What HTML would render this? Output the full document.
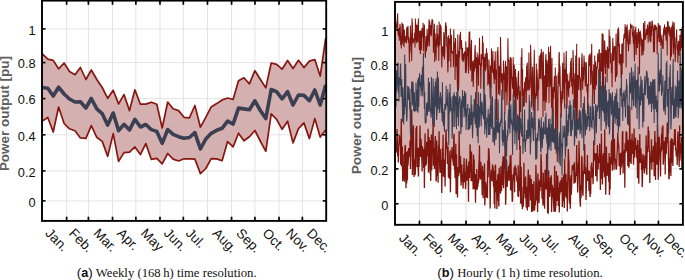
<!DOCTYPE html><html><head><meta charset="utf-8"><style>html,body{margin:0;padding:0;background:#fff;}svg{display:block;}</style></head><body>
<svg width="685" height="280" viewBox="0 0 685 280">
<defs><clipPath id="cl"><rect x="42.00" y="0.60" width="284.20" height="220.30"/></clipPath><clipPath id="cr"><rect x="395.00" y="1.90" width="287.90" height="222.90"/></clipPath></defs>
<style>.tl{font-family:"Liberation Sans",sans-serif;font-size:12.8px;fill:#111}.yl{font-family:"Liberation Sans",sans-serif;font-size:12px;font-weight:bold;fill:#5e5e5e}.ml{font-family:"Liberation Sans",sans-serif;font-size:13.5px;fill:#111}.cap{font-family:"Liberation Serif",serif;font-size:12.7px;fill:#111}.capb{font-family:"Liberation Sans",sans-serif;font-weight:bold}.capp{font-family:"Liberation Sans",sans-serif;font-size:13.5px}</style>
<line x1="66.62" y1="0.60" x2="66.62" y2="220.90" stroke="#e3e3e3" stroke-width="1"/>
<line x1="88.41" y1="0.60" x2="88.41" y2="220.90" stroke="#e3e3e3" stroke-width="1"/>
<line x1="112.53" y1="0.60" x2="112.53" y2="220.90" stroke="#e3e3e3" stroke-width="1"/>
<line x1="135.87" y1="0.60" x2="135.87" y2="220.90" stroke="#e3e3e3" stroke-width="1"/>
<line x1="159.99" y1="0.60" x2="159.99" y2="220.90" stroke="#e3e3e3" stroke-width="1"/>
<line x1="183.33" y1="0.60" x2="183.33" y2="220.90" stroke="#e3e3e3" stroke-width="1"/>
<line x1="207.45" y1="0.60" x2="207.45" y2="220.90" stroke="#e3e3e3" stroke-width="1"/>
<line x1="231.57" y1="0.60" x2="231.57" y2="220.90" stroke="#e3e3e3" stroke-width="1"/>
<line x1="254.92" y1="0.60" x2="254.92" y2="220.90" stroke="#e3e3e3" stroke-width="1"/>
<line x1="279.04" y1="0.60" x2="279.04" y2="220.90" stroke="#e3e3e3" stroke-width="1"/>
<line x1="302.38" y1="0.60" x2="302.38" y2="220.90" stroke="#e3e3e3" stroke-width="1"/>
<line x1="42.00" y1="28.90" x2="326.20" y2="28.90" stroke="#e3e3e3" stroke-width="1"/>
<line x1="42.00" y1="62.60" x2="326.20" y2="62.60" stroke="#e3e3e3" stroke-width="1"/>
<line x1="42.00" y1="98.60" x2="326.20" y2="98.60" stroke="#e3e3e3" stroke-width="1"/>
<line x1="42.00" y1="134.80" x2="326.20" y2="134.80" stroke="#e3e3e3" stroke-width="1"/>
<line x1="42.00" y1="170.90" x2="326.20" y2="170.90" stroke="#e3e3e3" stroke-width="1"/>
<line x1="42.00" y1="200.90" x2="326.20" y2="200.90" stroke="#e3e3e3" stroke-width="1"/>
<g clip-path="url(#cl)"><polygon points="42.3,53.8 47.8,59.1 53.2,60.4 58.6,68.8 64.1,63 69.5,71.5 75,74.7 80.4,67.5 85.9,79.5 91.3,70 96.8,79.5 102.2,87.5 107.7,98.3 113.2,90.3 118.6,103.9 124,94.6 129.5,110.6 134.9,89.8 140.4,104.2 145.8,104.1 151.3,102.2 156.8,104.2 162.2,128 167.7,102 173.1,108.8 178.6,110.6 184,117.3 189.4,117.8 194.9,105.5 200.4,127.2 205.8,117.3 211.2,106.9 216.7,103.6 222.1,100 227.6,98 233.1,99.5 238.5,80.7 243.9,77.8 249.4,83.9 254.9,70.7 260.3,79.3 265.8,87.9 271.2,63 276.6,64.3 282.1,69.2 287.6,60.5 293,68.5 298.5,60.3 303.9,67.6 309.4,61.1 314.8,59.6 320.2,76.1 325.7,38.2 325.7,130 320.2,137.1 314.8,118.6 309.4,138.6 303.9,122.9 298.5,128.6 293,142.9 287.6,121.2 282.1,129.3 276.6,119.3 271.2,113.9 265.8,151.3 260.3,141 254.9,130.5 249.4,136.7 243.9,140.8 238.5,133.2 233.1,146.9 227.6,141.6 222.1,160.8 216.7,158.9 211.2,158.6 205.8,168.5 200.4,173.6 194.9,159.1 189.4,158.8 184,158.8 178.6,161 173.1,159.1 167.7,153.5 162.2,163.9 156.8,158.3 151.3,159.3 145.8,143.6 140.4,154.6 134.9,146.9 129.5,152.1 124,152.6 118.6,161.4 113.2,133.6 107.7,156.4 102.2,141.4 96.8,137.3 91.3,125.6 85.9,138.3 80.4,137.9 75,130.7 69.5,128.8 64.1,123.5 58.6,107 53.2,132 47.8,117.5 42.3,121" fill="#d4b1b0"/>
<polyline points="42.3,53.8 47.8,59.1 53.2,60.4 58.6,68.8 64.1,63 69.5,71.5 75,74.7 80.4,67.5 85.9,79.5 91.3,70 96.8,79.5 102.2,87.5 107.7,98.3 113.2,90.3 118.6,103.9 124,94.6 129.5,110.6 134.9,89.8 140.4,104.2 145.8,104.1 151.3,102.2 156.8,104.2 162.2,128 167.7,102 173.1,108.8 178.6,110.6 184,117.3 189.4,117.8 194.9,105.5 200.4,127.2 205.8,117.3 211.2,106.9 216.7,103.6 222.1,100 227.6,98 233.1,99.5 238.5,80.7 243.9,77.8 249.4,83.9 254.9,70.7 260.3,79.3 265.8,87.9 271.2,63 276.6,64.3 282.1,69.2 287.6,60.5 293,68.5 298.5,60.3 303.9,67.6 309.4,61.1 314.8,59.6 320.2,76.1 325.7,38.2" fill="none" stroke="#86160f" stroke-width="1.7" stroke-linejoin="round"/>
<polyline points="42.3,121 47.8,117.5 53.2,132 58.6,107 64.1,123.5 69.5,128.8 75,130.7 80.4,137.9 85.9,138.3 91.3,125.6 96.8,137.3 102.2,141.4 107.7,156.4 113.2,133.6 118.6,161.4 124,152.6 129.5,152.1 134.9,146.9 140.4,154.6 145.8,143.6 151.3,159.3 156.8,158.3 162.2,163.9 167.7,153.5 173.1,159.1 178.6,161 184,158.8 189.4,158.8 194.9,159.1 200.4,173.6 205.8,168.5 211.2,158.6 216.7,158.9 222.1,160.8 227.6,141.6 233.1,146.9 238.5,133.2 243.9,140.8 249.4,136.7 254.9,130.5 260.3,141 265.8,151.3 271.2,113.9 276.6,119.3 282.1,129.3 287.6,121.2 293,142.9 298.5,128.6 303.9,122.9 309.4,138.6 314.8,118.6 320.2,137.1 325.7,130" fill="none" stroke="#86160f" stroke-width="1.7" stroke-linejoin="round"/>
<polyline points="42.3,87.5 47.8,88.3 53.2,96 58.6,87.2 64.1,94 69.5,99 75,102 80.4,101.7 85.9,108 91.3,98.5 96.8,108.9 102.2,113.7 107.7,125.1 113.2,113 118.6,130.7 124,124.3 129.5,129.9 134.9,119.4 140.4,127 145.8,124.5 151.3,129.6 156.8,131.4 162.2,143.3 167.7,129.5 173.1,134.3 178.6,136.7 184,138.3 189.4,137.5 194.9,132.7 200.4,149 205.8,139 211.2,133.3 216.7,130.3 222.1,128.3 227.6,121.2 233.1,124.1 238.5,108.1 243.9,108.9 249.4,109.7 254.9,100.8 260.3,110.5 265.8,118.5 271.2,89.5 276.6,91.7 282.1,98.9 287.6,91.7 293,105 298.5,95 303.9,95.4 309.4,100.7 314.8,90 320.2,105 325.7,85" fill="none" stroke="#3a3f52" stroke-width="3.6" stroke-linejoin="round"/></g>
<rect x="42.00" y="0.60" width="284.20" height="220.30" fill="none" stroke="#000" stroke-width="1.9"/>
<line x1="66.62" y1="220.90" x2="66.62" y2="216.70" stroke="#000" stroke-width="1.7"/>
<line x1="66.62" y1="0.60" x2="66.62" y2="4.80" stroke="#000" stroke-width="1.7"/>
<line x1="88.41" y1="220.90" x2="88.41" y2="216.70" stroke="#000" stroke-width="1.7"/>
<line x1="88.41" y1="0.60" x2="88.41" y2="4.80" stroke="#000" stroke-width="1.7"/>
<line x1="112.53" y1="220.90" x2="112.53" y2="216.70" stroke="#000" stroke-width="1.7"/>
<line x1="112.53" y1="0.60" x2="112.53" y2="4.80" stroke="#000" stroke-width="1.7"/>
<line x1="135.87" y1="220.90" x2="135.87" y2="216.70" stroke="#000" stroke-width="1.7"/>
<line x1="135.87" y1="0.60" x2="135.87" y2="4.80" stroke="#000" stroke-width="1.7"/>
<line x1="159.99" y1="220.90" x2="159.99" y2="216.70" stroke="#000" stroke-width="1.7"/>
<line x1="159.99" y1="0.60" x2="159.99" y2="4.80" stroke="#000" stroke-width="1.7"/>
<line x1="183.33" y1="220.90" x2="183.33" y2="216.70" stroke="#000" stroke-width="1.7"/>
<line x1="183.33" y1="0.60" x2="183.33" y2="4.80" stroke="#000" stroke-width="1.7"/>
<line x1="207.45" y1="220.90" x2="207.45" y2="216.70" stroke="#000" stroke-width="1.7"/>
<line x1="207.45" y1="0.60" x2="207.45" y2="4.80" stroke="#000" stroke-width="1.7"/>
<line x1="231.57" y1="220.90" x2="231.57" y2="216.70" stroke="#000" stroke-width="1.7"/>
<line x1="231.57" y1="0.60" x2="231.57" y2="4.80" stroke="#000" stroke-width="1.7"/>
<line x1="254.92" y1="220.90" x2="254.92" y2="216.70" stroke="#000" stroke-width="1.7"/>
<line x1="254.92" y1="0.60" x2="254.92" y2="4.80" stroke="#000" stroke-width="1.7"/>
<line x1="279.04" y1="220.90" x2="279.04" y2="216.70" stroke="#000" stroke-width="1.7"/>
<line x1="279.04" y1="0.60" x2="279.04" y2="4.80" stroke="#000" stroke-width="1.7"/>
<line x1="302.38" y1="220.90" x2="302.38" y2="216.70" stroke="#000" stroke-width="1.7"/>
<line x1="302.38" y1="0.60" x2="302.38" y2="4.80" stroke="#000" stroke-width="1.7"/>
<line x1="42.00" y1="28.90" x2="45.50" y2="28.90" stroke="#000" stroke-width="1.6"/>
<line x1="326.20" y1="28.90" x2="322.70" y2="28.90" stroke="#000" stroke-width="1.6"/>
<line x1="42.00" y1="62.60" x2="45.50" y2="62.60" stroke="#000" stroke-width="1.6"/>
<line x1="326.20" y1="62.60" x2="322.70" y2="62.60" stroke="#000" stroke-width="1.6"/>
<line x1="42.00" y1="98.60" x2="45.50" y2="98.60" stroke="#000" stroke-width="1.6"/>
<line x1="326.20" y1="98.60" x2="322.70" y2="98.60" stroke="#000" stroke-width="1.6"/>
<line x1="42.00" y1="134.80" x2="45.50" y2="134.80" stroke="#000" stroke-width="1.6"/>
<line x1="326.20" y1="134.80" x2="322.70" y2="134.80" stroke="#000" stroke-width="1.6"/>
<line x1="42.00" y1="170.90" x2="45.50" y2="170.90" stroke="#000" stroke-width="1.6"/>
<line x1="326.20" y1="170.90" x2="322.70" y2="170.90" stroke="#000" stroke-width="1.6"/>
<line x1="42.00" y1="200.90" x2="45.50" y2="200.90" stroke="#000" stroke-width="1.6"/>
<line x1="326.20" y1="200.90" x2="322.70" y2="200.90" stroke="#000" stroke-width="1.6"/>
<text x="35.60" y="34.70" text-anchor="end" class="tl">1</text>
<text x="35.60" y="68.40" text-anchor="end" class="tl">0.8</text>
<text x="35.60" y="104.40" text-anchor="end" class="tl">0.6</text>
<text x="35.60" y="140.60" text-anchor="end" class="tl">0.4</text>
<text x="35.60" y="176.70" text-anchor="end" class="tl">0.2</text>
<text x="35.60" y="206.70" text-anchor="end" class="tl">0</text>
<text transform="translate(9.15,113.60) rotate(-90)" text-anchor="middle" class="yl" textLength="115.0" lengthAdjust="spacingAndGlyphs">Power output [pu]</text>
<text transform="translate(44.56,234.10) rotate(45)" class="ml">Jan.</text>
<text transform="translate(68.26,234.10) rotate(45)" class="ml">Feb.</text>
<text transform="translate(92.82,234.10) rotate(45)" class="ml">Mar.</text>
<text transform="translate(116.35,234.10) rotate(45)" class="ml">Apr.</text>
<text transform="translate(140.08,234.10) rotate(45)" class="ml">May</text>
<text transform="translate(163.11,234.10) rotate(45)" class="ml">Jun.</text>
<text transform="translate(184.94,234.10) rotate(45)" class="ml">Jul.</text>
<text transform="translate(211.81,234.10) rotate(45)" class="ml">Aug.</text>
<text transform="translate(235.45,234.10) rotate(45)" class="ml">Sep.</text>
<text transform="translate(261.68,234.10) rotate(45)" class="ml">Oct.</text>
<text transform="translate(285.06,234.10) rotate(45)" class="ml">Nov.</text>
<text transform="translate(306.04,234.10) rotate(45)" class="ml">Dec.</text>
<line x1="419.45" y1="1.90" x2="419.45" y2="224.80" stroke="#e3e3e3" stroke-width="1"/>
<line x1="441.54" y1="1.90" x2="441.54" y2="224.80" stroke="#e3e3e3" stroke-width="1"/>
<line x1="465.99" y1="1.90" x2="465.99" y2="224.80" stroke="#e3e3e3" stroke-width="1"/>
<line x1="489.65" y1="1.90" x2="489.65" y2="224.80" stroke="#e3e3e3" stroke-width="1"/>
<line x1="514.10" y1="1.90" x2="514.10" y2="224.80" stroke="#e3e3e3" stroke-width="1"/>
<line x1="537.77" y1="1.90" x2="537.77" y2="224.80" stroke="#e3e3e3" stroke-width="1"/>
<line x1="562.22" y1="1.90" x2="562.22" y2="224.80" stroke="#e3e3e3" stroke-width="1"/>
<line x1="586.67" y1="1.90" x2="586.67" y2="224.80" stroke="#e3e3e3" stroke-width="1"/>
<line x1="610.33" y1="1.90" x2="610.33" y2="224.80" stroke="#e3e3e3" stroke-width="1"/>
<line x1="634.79" y1="1.90" x2="634.79" y2="224.80" stroke="#e3e3e3" stroke-width="1"/>
<line x1="658.45" y1="1.90" x2="658.45" y2="224.80" stroke="#e3e3e3" stroke-width="1"/>
<line x1="395.00" y1="29.80" x2="682.90" y2="29.80" stroke="#e3e3e3" stroke-width="1"/>
<line x1="395.00" y1="64.60" x2="682.90" y2="64.60" stroke="#e3e3e3" stroke-width="1"/>
<line x1="395.00" y1="99.80" x2="682.90" y2="99.80" stroke="#e3e3e3" stroke-width="1"/>
<line x1="395.00" y1="134.80" x2="682.90" y2="134.80" stroke="#e3e3e3" stroke-width="1"/>
<line x1="395.00" y1="168.90" x2="682.90" y2="168.90" stroke="#e3e3e3" stroke-width="1"/>
<line x1="395.00" y1="203.75" x2="682.90" y2="203.75" stroke="#e3e3e3" stroke-width="1"/>
<g clip-path="url(#cr)"><polygon points="395,32.5 395.3,27.5 395.7,21.3 396,25.1 396.3,28.3 396.7,26.3 397,27.7 397.3,18.4 397.7,13.4 398,32.7 398.3,34.4 398.7,36.5 399,28.2 399.3,40.8 399.7,28.2 400,23.8 400.3,26.9 400.7,45.2 401,35.7 401.3,48.4 401.7,36 402,22.6 402.3,44.2 402.7,33.8 403,24.1 403.3,27.6 403.7,45.7 404,46.1 404.4,29.7 404.7,35.8 405,42.5 405.4,36.4 405.7,39.1 406,40.4 406.4,43.4 406.7,27.2 407,40.1 407.4,32.3 407.7,28 408,25.9 408.4,42.8 408.7,37.1 409,40.3 409.4,62.6 409.7,45.6 410,52.8 410.4,25.5 410.7,35.9 411,33.5 411.4,47.4 411.7,61.1 412,18.2 412.4,24.3 412.7,35.5 413,43.6 413.4,38.5 413.7,41.4 414,40.3 414.4,41.9 414.7,32.5 415,47.4 415.4,18.6 415.7,39.7 416,23.7 416.4,43.2 416.7,33.6 417,25 417.4,42.1 417.7,29.1 418,27.6 418.4,18.5 418.7,42.7 419,39.8 419.4,49.9 419.7,31.1 420,42.7 420.4,54.2 420.7,30.3 421.1,36.6 421.4,50.2 421.7,34.3 422.1,28.1 422.4,35.8 422.7,37 423.1,22.8 423.4,51.6 423.7,28.7 424.1,36.2 424.4,24.6 424.7,38.7 425.1,53.8 425.4,57.7 425.7,49.2 426.1,36.1 426.4,51.3 426.7,48 427.1,28.7 427.4,36.2 427.7,46.4 428.1,42.4 428.4,37 428.7,28.9 429.1,19.2 429.4,46.3 429.7,21.3 430.1,34.5 430.4,28 430.7,25.1 431.1,36.4 431.4,35.5 431.7,23.1 432.1,19 432.4,20.5 432.7,20.6 433.1,29.6 433.4,52.7 433.7,29.8 434.1,46.2 434.4,23.8 434.7,61.9 435.1,33.2 435.4,40 435.7,49.7 436.1,60.3 436.4,43.5 436.7,36.6 437.1,24.9 437.4,45.5 437.8,34.1 438.1,47.7 438.4,37 438.8,60.9 439.1,21.5 439.4,37.1 439.8,45.6 440.1,37.1 440.4,24.5 440.8,27.7 441.1,27.6 441.4,49 441.8,67.6 442.1,54.1 442.4,46.2 442.8,54.3 443.1,48.4 443.4,56.4 443.8,32 444.1,35.2 444.4,59.5 444.8,51.3 445.1,41.2 445.4,25.8 445.8,22.3 446.1,33.2 446.4,25.8 446.8,46.4 447.1,37 447.4,55.9 447.8,72.6 448.1,69.6 448.4,35.2 448.8,57.7 449.1,61.1 449.4,39.4 449.8,39.9 450.1,44 450.4,28.5 450.8,67.5 451.1,34.6 451.4,36.5 451.8,51.9 452.1,53.1 452.4,51.6 452.8,53.9 453.1,51 453.4,67 453.8,29.3 454.1,46.3 454.5,42.6 454.8,52.7 455.1,79.9 455.5,38 455.8,47.8 456.1,66.5 456.5,54 456.8,60.2 457.1,73.5 457.5,90.4 457.8,34.3 458.1,49.5 458.5,91 458.8,83.3 459.1,50.9 459.5,57.4 459.8,34.9 460.1,38.4 460.5,31.7 460.8,47.8 461.1,49.5 461.5,40 461.8,48.5 462.1,60.2 462.5,47.8 462.8,57.6 463.1,62.1 463.5,53.7 463.8,60.7 464.1,54.4 464.5,52 464.8,52 465.1,53.4 465.5,72.9 465.8,41.4 466.1,73.2 466.5,69.4 466.8,60.7 467.1,48.5 467.5,49 467.8,56.2 468.1,47 468.5,73.4 468.8,48.4 469.1,31.8 469.5,36.1 469.8,31.6 470.1,67.2 470.5,70.6 470.8,62.4 471.1,48.1 471.5,39.8 471.8,81.8 472.2,67 472.5,61.3 472.8,66.6 473.2,86.9 473.5,78.3 473.8,59.9 474.2,64.2 474.5,71.6 474.8,51.5 475.2,45 475.5,61.9 475.8,68.6 476.2,56.9 476.5,67.7 476.8,115.2 477.2,52.5 477.5,62.1 477.8,58.4 478.2,73.3 478.5,85.7 478.8,54.9 479.2,56.4 479.5,37.8 479.8,64.3 480.2,64 480.5,64.9 480.8,88.7 481.2,54.3 481.5,66.4 481.8,55.6 482.2,59.2 482.5,35.8 482.8,59.3 483.2,42.5 483.5,89.1 483.8,78.2 484.2,57 484.5,68.5 484.8,69.4 485.2,53.6 485.5,71.2 485.8,68.5 486.2,67 486.5,48.3 486.8,59.5 487.2,52.7 487.5,60.9 487.8,85.5 488.2,76.8 488.5,83.4 488.9,59.4 489.2,68.4 489.5,84.4 489.9,87.7 490.2,98.7 490.5,65.6 490.9,88.1 491.2,82.5 491.5,48.5 491.9,68.1 492.2,61.5 492.5,72.7 492.9,51 493.2,68.3 493.5,73.7 493.9,78 494.2,84 494.5,60.7 494.9,79.4 495.2,51.6 495.5,72.7 495.9,69.4 496.2,114.3 496.5,120.2 496.9,72.5 497.2,51.1 497.5,58.7 497.9,47.1 498.2,61.3 498.5,94.3 498.9,78.9 499.2,66.1 499.5,80.4 499.9,95.6 500.2,75.5 500.5,37 500.9,59 501.2,76.1 501.5,82 501.9,83.1 502.2,73.2 502.5,87.5 502.9,99.9 503.2,85.2 503.5,60.5 503.9,76.6 504.2,79.9 504.5,72.8 504.9,114.1 505.2,67.9 505.6,60.7 505.9,92.3 506.2,86.2 506.6,66.2 506.9,104.9 507.2,93.6 507.6,79.4 507.9,38.3 508.2,58.4 508.6,61.9 508.9,59.8 509.2,94.9 509.6,116.2 509.9,81.7 510.2,57 510.6,100.7 510.9,71.9 511.2,57.8 511.6,76.7 511.9,77.3 512.2,82.3 512.6,88.6 512.9,81.6 513.2,57.2 513.6,97.2 513.9,96.3 514.2,64.6 514.6,74.9 514.9,86.4 515.2,117.7 515.6,69.1 515.9,131.9 516.2,77 516.6,86.1 516.9,94.1 517.2,96 517.6,99.8 517.9,83.2 518.2,74 518.6,71.1 518.9,95.6 519.2,86.1 519.6,149.9 519.9,91.2 520.2,109.5 520.6,112.1 520.9,87.9 521.2,57.1 521.6,61.7 521.9,48.3 522.3,96.6 522.6,69.1 522.9,99.5 523.3,88.5 523.6,107.1 523.9,96.8 524.3,106.3 524.6,82.4 524.9,82.5 525.3,91.8 525.6,77.3 525.9,102.2 526.3,102.3 526.6,65.4 526.9,78.4 527.3,62.6 527.6,89.8 527.9,90.7 528.3,80.3 528.6,89 528.9,52.5 529.3,90.5 529.6,82.8 529.9,88.1 530.3,79.8 530.6,44.8 530.9,57.3 531.3,74.9 531.6,107.6 531.9,89.1 532.3,84.7 532.6,66.8 532.9,93.7 533.3,110.5 533.6,101.6 533.9,74.2 534.3,49.7 534.6,86 534.9,129.8 535.3,93.5 535.6,99.2 535.9,96.9 536.3,63.5 536.6,95.9 536.9,69.2 537.3,76.8 537.6,79.7 537.9,110.8 538.3,87.4 538.6,89.5 539,71.8 539.3,55.5 539.6,78.6 540,77 540.3,68.6 540.6,53.4 541,79.2 541.3,48.9 541.6,60.4 542,52.5 542.3,74.4 542.6,83 543,116.9 543.3,51.4 543.6,75 544,100.9 544.3,78.9 544.6,75.5 545,111 545.3,89.8 545.6,59.9 546,54.1 546.3,102.5 546.6,87.9 547,60.3 547.3,65.4 547.6,86.9 548,64 548.3,72.8 548.6,46.8 549,103.3 549.3,52.1 549.6,73.1 550,86.6 550.3,74.9 550.6,45.7 551,81.2 551.3,94.2 551.6,108.1 552,58.1 552.3,129.1 552.6,88.6 553,112 553.3,87.1 553.6,98.5 554,87.6 554.3,76 554.6,92.2 555,82.9 555.3,67.4 555.6,140.2 556,109.8 556.3,112.6 556.7,75.4 557,110.7 557.3,162 557.7,126.3 558,93.4 558.3,72.4 558.7,83.7 559,54.9 559.3,52 559.7,86.4 560,65.7 560.3,86 560.7,104.8 561,113.6 561.3,117.7 561.7,91.1 562,103.3 562.3,77.5 562.7,62.8 563,99.5 563.3,82.1 563.7,88.3 564,52.5 564.3,81.6 564.7,108.5 565,69 565.3,82.6 565.7,75.1 566,61 566.3,50.9 566.7,107.1 567,108.5 567.3,93.1 567.7,73.7 568,90.5 568.3,85.9 568.7,96.9 569,80.7 569.3,88.2 569.7,87 570,72.5 570.3,75.4 570.7,60.9 571,81.2 571.3,58 571.7,86.5 572,81.6 572.3,78.8 572.7,94.5 573,49.9 573.4,62.3 573.7,76.8 574,87.1 574.4,108.1 574.7,96.4 575,73.2 575.4,109.9 575.7,55.6 576,127.9 576.4,69.7 576.7,43.8 577,127.5 577.4,103.1 577.7,75.1 578,77.3 578.4,75.5 578.7,90 579,57.4 579.4,58.4 579.7,79.3 580,77 580.4,90.8 580.7,79.2 581,108.1 581.4,73.9 581.7,60.2 582,53.2 582.4,70.7 582.7,89.4 583,67 583.4,80.7 583.7,72.2 584,55.6 584.4,67.1 584.7,61.8 585,78.8 585.4,86.4 585.7,79.8 586,62.7 586.4,62.8 586.7,85.4 587,92.3 587.4,84.1 587.7,114.6 588,91.2 588.4,83.2 588.7,62 589,55.9 589.4,54.9 589.7,66 590.1,53.4 590.4,57.3 590.7,85.1 591.1,59.9 591.4,61.6 591.7,43.7 592.1,83.6 592.4,70.8 592.7,104.5 593.1,77.7 593.4,88.5 593.7,64.4 594.1,74.8 594.4,104.1 594.7,55.6 595.1,80.7 595.4,89.6 595.7,61.6 596.1,79.1 596.4,85.4 596.7,67.9 597.1,66.7 597.4,68.5 597.7,53.4 598.1,59.2 598.4,59.7 598.7,62.3 599.1,49.2 599.4,50.6 599.7,97 600.1,106.8 600.4,75.5 600.7,53 601.1,54.2 601.4,71.3 601.7,69.7 602.1,33.2 602.4,66.6 602.7,102.6 603.1,34 603.4,96.1 603.7,68.2 604.1,65.7 604.4,41 604.7,41.2 605.1,55.5 605.4,74.3 605.7,57.5 606.1,49.8 606.4,63.5 606.8,51.5 607.1,82.3 607.4,46.4 607.8,67.9 608.1,48.5 608.4,60.6 608.8,68.7 609.1,29.6 609.4,52.1 609.8,35.8 610.1,41.4 610.4,63.5 610.8,53.7 611.1,53.6 611.4,72.9 611.8,66 612.1,87.2 612.4,60.7 612.8,37.9 613.1,47 613.4,61 613.8,59.2 614.1,50.1 614.4,46.2 614.8,48.9 615.1,46.2 615.4,81.7 615.8,60.7 616.1,33.4 616.4,77.2 616.8,59.1 617.1,75.3 617.4,44.3 617.8,29 618.1,46.6 618.4,27.4 618.8,32.8 619.1,63.1 619.4,43.8 619.8,64.6 620.1,62.1 620.4,54.1 620.8,55.4 621.1,77.4 621.4,78.2 621.8,43.8 622.1,74.6 622.4,49.6 622.8,43.4 623.1,63.3 623.4,40.1 623.8,37.9 624.1,33.9 624.5,38.6 624.8,33.2 625.1,24.2 625.5,31.1 625.8,37.1 626.1,67.5 626.5,26.7 626.8,41.2 627.1,24.6 627.5,33.1 627.8,43.9 628.1,40.8 628.5,51.3 628.8,41.5 629.1,29.8 629.5,37.5 629.8,41 630.1,44.4 630.5,23.5 630.8,28.7 631.1,26.9 631.5,26.5 631.8,24.8 632.1,25.7 632.5,36.2 632.8,31.7 633.1,38.3 633.5,44 633.8,26 634.1,47.1 634.5,61.2 634.8,42 635.1,31.5 635.5,32.2 635.8,26.8 636.1,55.1 636.5,45.7 636.8,41.1 637.1,32.2 637.5,48 637.8,35.9 638.1,40.9 638.5,28.5 638.8,43.6 639.1,32 639.5,74.2 639.8,40.1 640.1,30.7 640.5,32.9 640.8,34.4 641.2,46.2 641.5,38.3 641.8,55.7 642.2,39.6 642.5,52.6 642.8,39.7 643.2,55.1 643.5,23 643.8,51.1 644.2,34 644.5,38.1 644.8,20.9 645.2,40.1 645.5,35.4 645.8,38.2 646.2,33.3 646.5,28.9 646.8,33.9 647.2,34.8 647.5,24.5 647.8,32.8 648.2,42.7 648.5,30.1 648.8,27 649.2,21.9 649.5,30.3 649.8,40.9 650.2,21.6 650.5,35.1 650.8,42.6 651.2,26 651.5,35.7 651.8,22.9 652.2,20.6 652.5,25 652.8,28 653.2,32.8 653.5,52.3 653.8,32.7 654.2,24.4 654.5,52.3 654.8,26 655.2,30.7 655.5,25.5 655.8,25.7 656.2,29.7 656.5,26.9 656.8,29.3 657.2,54.3 657.5,38.7 657.9,42.1 658.2,23.1 658.5,26.6 658.9,37.9 659.2,24.7 659.5,42.2 659.9,31.2 660.2,25.4 660.5,37.7 660.9,45.9 661.2,37.5 661.5,43.1 661.9,34.5 662.2,48.3 662.5,44.6 662.9,40.5 663.2,49 663.5,32.3 663.9,27.9 664.2,35.4 664.5,24.5 664.9,33.5 665.2,26.9 665.5,33.7 665.9,36.4 666.2,40.6 666.5,27.5 666.9,27.2 667.2,55.6 667.5,21.3 667.9,26 668.2,21.6 668.5,32.7 668.9,29.1 669.2,35.5 669.5,26.2 669.9,37.1 670.2,29.7 670.5,60.4 670.9,28 671.2,27.8 671.5,56.7 671.9,36 672.2,24.7 672.5,38.7 672.9,21.6 673.2,45.5 673.5,54.4 673.9,33.4 674.2,22.6 674.6,45.6 674.9,48.8 675.2,62 675.6,53.1 675.9,37.7 676.2,38.5 676.6,29.4 676.9,40 677.2,48.1 677.6,50.7 677.9,63.1 678.2,45.1 678.6,40.7 678.9,49.7 679.2,56.1 679.6,45.7 679.9,34.9 680.2,39.7 680.6,51.4 680.9,35.9 681.2,30.9 681.6,48.1 681.9,42.7 682.2,27 682.6,43.1 682.9,27.2 682.9,173.1 682.6,167.9 682.2,150 681.9,168.7 681.6,137 681.2,149.2 680.9,152.7 680.6,143.3 680.2,155.4 679.9,160.6 679.6,125.4 679.2,167 678.9,158.3 678.6,149 678.2,142.1 677.9,131.4 677.6,140.3 677.2,164.9 676.9,150.6 676.6,155.3 676.2,155.6 675.9,148.4 675.6,150.4 675.2,129 674.9,133.4 674.6,129.2 674.2,144.7 673.9,144.6 673.5,143.3 673.2,142 672.9,165.9 672.5,139.1 672.2,163.3 671.9,146.1 671.5,141.5 671.2,138.2 670.9,175.9 670.5,140.8 670.2,157.1 669.9,172.7 669.5,158.6 669.2,178 668.9,179.3 668.5,162.3 668.2,143.9 667.9,133.4 667.5,122.4 667.2,124.3 666.9,141.2 666.5,145.2 666.2,154.2 665.9,140.4 665.5,137.2 665.2,174.4 664.9,145.5 664.5,146.9 664.2,141.2 663.9,148.2 663.5,160.8 663.2,164.7 662.9,125.3 662.5,149.7 662.2,127.3 661.9,146.3 661.5,134 661.2,152.3 660.9,149.9 660.5,176.5 660.2,148.7 659.9,147.4 659.5,144.2 659.2,136.9 658.9,157.8 658.5,165.6 658.2,179.8 657.9,137 657.5,124.4 657.2,161 656.8,164.8 656.5,154.3 656.2,164.3 655.8,142.2 655.5,180.1 655.2,144.5 654.8,130.9 654.5,153.4 654.2,176.3 653.8,153 653.5,146.1 653.2,147.7 652.8,162.1 652.5,150.4 652.2,156.6 651.8,169.7 651.5,139.2 651.2,153.5 650.8,157.6 650.5,162.8 650.2,158.2 649.8,182.9 649.5,150.8 649.2,151.9 648.8,130.5 648.5,139.9 648.2,126.6 647.8,146.3 647.5,152.3 647.2,146.8 646.8,174.9 646.5,170.6 646.2,135.5 645.8,155.5 645.5,168.2 645.2,157.5 644.8,155.5 644.5,173.4 644.2,170.1 643.8,165.9 643.5,166 643.2,154.2 642.8,155.6 642.5,179.5 642.2,187.1 641.8,159.6 641.5,169.9 641.2,153.7 640.8,148.2 640.5,156.4 640.1,162.9 639.8,133.9 639.5,149.4 639.1,154.1 638.8,183.8 638.5,171.4 638.1,144 637.8,140.1 637.5,178.2 637.1,144.9 636.8,158.2 636.5,147.3 636.1,146.2 635.8,149.9 635.5,137.7 635.1,144.8 634.8,157.4 634.5,150.6 634.1,128.5 633.8,153.7 633.5,164.8 633.1,140.7 632.8,143 632.5,153.9 632.1,133.5 631.8,151.1 631.5,148.5 631.1,164 630.8,139.6 630.5,162.3 630.1,152.1 629.8,106.6 629.5,141.3 629.1,166 628.8,167.7 628.5,155.7 628.1,139.7 627.8,165.9 627.5,140.8 627.1,150.9 626.8,133.4 626.5,132.3 626.1,131.4 625.8,152.8 625.5,148.5 625.1,143.3 624.8,187.7 624.5,149.8 624.1,153.7 623.8,157.1 623.4,158.3 623.1,173.5 622.8,131.1 622.4,132.8 622.1,152.8 621.8,161.6 621.4,166.7 621.1,167 620.8,152.8 620.4,174.9 620.1,153.5 619.8,161.5 619.4,156.4 619.1,166.2 618.8,147 618.4,143.4 618.1,143.5 617.8,132.5 617.4,148 617.1,153.1 616.8,165.8 616.4,169 616.1,169 615.8,164.8 615.4,158.5 615.1,160.2 614.8,160.1 614.4,138.8 614.1,169.8 613.8,160.8 613.4,156.8 613.1,123 612.8,120.9 612.4,170.7 612.1,161.8 611.8,140 611.4,143.6 611.1,163.9 610.8,163.3 610.4,156.9 610.1,189.2 609.8,171.7 609.4,195 609.1,153.1 608.8,182.1 608.4,167.2 608.1,162.8 607.8,173.7 607.4,170.7 607.1,176 606.8,165.5 606.4,146.6 606.1,171.7 605.7,194.8 605.4,175.1 605.1,163.1 604.7,129.4 604.4,177.3 604.1,168 603.7,158.5 603.4,152.9 603.1,171.7 602.7,160.3 602.4,184.5 602.1,155.8 601.7,163 601.4,133.6 601.1,179 600.7,154.6 600.4,189.9 600.1,164.5 599.7,143.4 599.4,154.8 599.1,155.1 598.7,163.1 598.4,159.5 598.1,169.6 597.7,167.4 597.4,145.1 597.1,181.4 596.7,157.8 596.4,153.2 596.1,154.1 595.7,176.3 595.4,160.3 595.1,156.1 594.7,153 594.4,160.6 594.1,158.1 593.7,140.6 593.4,170.8 593.1,184.3 592.7,170.5 592.4,167.8 592.1,177.5 591.7,162.4 591.4,174.7 591.1,165.5 590.7,193.9 590.4,187.4 590.1,197 589.7,189.6 589.4,170.7 589,191.1 588.7,175.8 588.4,170.4 588,177.3 587.7,180.9 587.4,154.9 587,180.3 586.7,172.8 586.4,184 586,200.1 585.7,168.5 585.4,167 585,174 584.7,144.3 584.4,159.7 584,169.3 583.7,174.1 583.4,171.1 583,195.7 582.7,192.8 582.4,186.6 582,157.5 581.7,157.1 581.4,182.4 581,198 580.7,184.9 580.4,206.8 580,199.9 579.7,190.5 579.4,158.6 579,140.7 578.7,168.9 578.4,162.4 578,183.4 577.7,192.4 577.4,178.2 577,168.8 576.7,144.9 576.4,164 576,175.9 575.7,173 575.4,182.8 575,175 574.7,180.3 574.4,162.3 574,183.8 573.7,164.7 573.4,164.9 573,170.3 572.7,166.2 572.3,165.3 572,172 571.7,185.3 571.3,194.8 571,175 570.7,190.6 570.3,208.7 570,177.7 569.7,203.7 569.3,200.1 569,162.7 568.7,158.2 568.3,149 568,172.1 567.7,182.8 567.3,211.5 567,181.7 566.7,182.5 566.3,198.2 566,174.8 565.7,173.9 565.3,196.4 565,192.7 564.7,158.4 564.3,208 564,196 563.7,174.7 563.3,183.5 563,200.9 562.7,192.4 562.3,206.9 562,177 561.7,191.8 561.3,179.3 561,181.7 560.7,192 560.3,181.2 560,194.6 559.7,182.6 559.3,212.5 559,187.6 558.7,202.2 558.3,205.9 558,184.4 557.7,175.4 557.3,201.1 557,179.9 556.7,188.9 556.3,171.1 556,204.7 555.6,207.8 555.3,211.8 555,209.9 554.6,165.8 554.3,195.5 554,211.8 553.6,201.7 553.3,195.2 553,187.4 552.6,197.1 552.3,184.7 552,196.2 551.6,212.1 551.3,175.2 551,185.2 550.6,191.1 550.3,177.2 550,191.7 549.6,197 549.3,182.3 549,191.1 548.6,170.3 548.3,211.8 548,213 547.6,212.5 547.3,185.3 547,173.8 546.6,153.6 546.3,187.4 546,189.4 545.6,181.6 545.3,172.2 545,169.8 544.6,208.8 544.3,182.3 544,194.7 543.6,204 543.3,172.7 543,205.8 542.6,192.2 542.3,185.3 542,198.7 541.6,173 541.3,160.4 541,153.8 540.6,186.9 540.3,179 540,191.1 539.6,180.7 539.3,190.9 539,203.1 538.6,186.6 538.3,183.8 537.9,173.6 537.6,212.1 537.3,198.7 536.9,199.2 536.6,192.3 536.3,179.9 535.9,164.7 535.6,199.5 535.3,205.3 534.9,204 534.6,210.5 534.3,209.6 533.9,181.2 533.6,201.9 533.3,184 532.9,211.5 532.6,203.6 532.3,184.3 531.9,208 531.6,211.9 531.3,179 530.9,185.8 530.6,200.6 530.3,179.4 529.9,174.8 529.6,192.9 529.3,176.9 528.9,207.1 528.6,199.5 528.3,169.4 527.9,181.9 527.6,201.4 527.3,210.5 526.9,193 526.6,186.8 526.3,207.7 525.9,193.3 525.6,176.6 525.3,198.3 524.9,178.1 524.6,185.9 524.3,193.5 523.9,162.8 523.6,197 523.3,206.9 522.9,200 522.6,206.6 522.3,209.1 521.9,187 521.6,204.4 521.2,166.9 520.9,175.7 520.6,203.5 520.2,145.7 519.9,168.7 519.6,182.7 519.2,191 518.9,181.1 518.6,197 518.2,165.2 517.9,196.6 517.6,182.4 517.2,178 516.9,181.7 516.6,176.4 516.2,172.9 515.9,167.6 515.6,175.2 515.2,165.4 514.9,166.7 514.6,192.2 514.2,167.3 513.9,174.4 513.6,180.4 513.2,178.2 512.9,174.4 512.6,200 512.2,201.8 511.9,187.4 511.6,185 511.2,170.7 510.9,154.7 510.6,190.5 510.2,155.8 509.9,174 509.6,163.7 509.2,178.3 508.9,181 508.6,166.3 508.2,179.7 507.9,174.7 507.6,171.3 507.2,186.9 506.9,173.1 506.6,161.3 506.2,159.5 505.9,197.2 505.6,204.7 505.2,129 504.9,167.8 504.5,168.9 504.2,156.5 503.9,177.4 503.5,188.2 503.2,156.3 502.9,160.4 502.5,162.7 502.2,184.9 501.9,176.6 501.5,191.3 501.2,175.4 500.9,166 500.5,193.7 500.2,187.3 499.9,189.9 499.5,179.5 499.2,167.8 498.9,206.4 498.5,193.7 498.2,200.6 497.9,174.1 497.5,186.1 497.2,186.9 496.9,209 496.5,180.1 496.2,192.1 495.9,186.1 495.5,164.7 495.2,165.8 494.9,208.4 494.5,185.3 494.2,204 493.9,170.8 493.5,186.6 493.2,168.3 492.9,166.3 492.5,165.6 492.2,180.3 491.9,181.2 491.5,169.8 491.2,173.8 490.9,174.9 490.5,177.1 490.2,208.4 489.9,178.5 489.5,163.9 489.2,156.6 488.9,149.7 488.5,148.3 488.2,177.2 487.8,160.6 487.5,198.2 487.2,192.8 486.8,186.4 486.5,197.4 486.2,186.1 485.8,182.9 485.5,183.4 485.2,194.9 484.8,205.5 484.5,163.5 484.2,176.6 483.8,172.3 483.5,171 483.2,198.3 482.8,174.9 482.5,165.8 482.2,195.3 481.8,176.2 481.5,177.8 481.2,172.4 480.8,161.7 480.5,178.8 480.2,179.1 479.8,176.4 479.5,145.2 479.2,159.8 478.8,165.9 478.5,183.2 478.2,179.4 477.8,187 477.5,183 477.2,189.6 476.8,169 476.5,189.6 476.2,184.8 475.8,173.9 475.5,202.7 475.2,180.4 474.8,174.7 474.5,189.1 474.2,159.6 473.8,162.4 473.5,154.5 473.2,189.6 472.8,176.1 472.5,179.8 472.2,181.2 471.8,163.9 471.5,151.6 471.1,181.2 470.8,157.3 470.5,157.5 470.1,144.3 469.8,162.6 469.5,178.1 469.1,169.3 468.8,161.6 468.5,201.8 468.1,165.6 467.8,175 467.5,167.5 467.1,175 466.8,180.8 466.5,158.7 466.1,166.4 465.8,184.5 465.5,189.1 465.1,171.8 464.8,181.5 464.5,181.5 464.1,158.1 463.8,167.3 463.5,172.7 463.1,188.6 462.8,182.5 462.5,174.3 462.1,181.8 461.8,164.4 461.5,165.5 461.1,185.6 460.8,177.9 460.5,156.1 460.1,170.8 459.8,172.6 459.5,156.7 459.1,131.1 458.8,175.7 458.5,169.5 458.1,176.5 457.8,167 457.5,197.6 457.1,184.3 456.8,178 456.5,154.3 456.1,194.1 455.8,143.8 455.5,173.8 455.1,178.2 454.8,169.9 454.5,169.3 454.1,133.7 453.8,137.1 453.4,165.8 453.1,162 452.8,159.9 452.4,156.1 452.1,147.1 451.8,151.5 451.4,157.9 451.1,156.4 450.8,162.3 450.4,192.2 450.1,151.4 449.8,151.9 449.4,178.9 449.1,166 448.8,165.2 448.4,177.4 448.1,146.4 447.8,149.5 447.4,164 447.1,150 446.8,142 446.4,148.4 446.1,129.3 445.8,137.2 445.4,154.9 445.1,186.6 444.8,169.8 444.4,174.1 444.1,159.6 443.8,176.1 443.4,175.8 443.1,134.8 442.8,160 442.4,147.9 442.1,164.8 441.8,192.9 441.4,160.3 441.1,172.1 440.8,170.7 440.4,149.2 440.1,173 439.8,169.4 439.4,154.5 439.1,131.2 438.8,155 438.4,145.2 438.1,182.8 437.8,154.5 437.4,158.8 437.1,176.1 436.7,140.4 436.4,178.8 436.1,181.5 435.7,158.7 435.4,136.1 435.1,141.4 434.7,152.9 434.4,169 434.1,150.3 433.7,148.3 433.4,165.7 433.1,118.2 432.7,146 432.4,139.1 432.1,146.2 431.7,170.3 431.4,134.5 431.1,156 430.7,181 430.4,140.2 430.1,173.8 429.7,160.3 429.4,165.9 429.1,137 428.7,164.7 428.4,172.6 428.1,128.8 427.7,156.6 427.4,147 427.1,147.9 426.7,141.7 426.4,164.3 426.1,153.1 425.7,166 425.4,165.2 425.1,133.4 424.7,150.6 424.4,188 424.1,149 423.7,168.1 423.4,150.6 423.1,157.6 422.7,149.7 422.4,146.2 422.1,171.4 421.7,154.6 421.4,146.8 421.1,139.7 420.7,139.1 420.4,156.9 420,125.5 419.7,145.9 419.4,153.1 419,167.1 418.7,147.7 418.4,176.6 418,162.7 417.7,147.8 417.4,151.9 417,167.3 416.7,126.1 416.4,129.3 416,127.8 415.7,148.7 415.4,172.8 415,175.2 414.7,168.5 414.4,159.3 414,177 413.7,161.3 413.4,125.3 413,146.8 412.7,143.6 412.4,175.1 412,138.1 411.7,109.4 411.4,121.7 411,126.8 410.7,149.6 410.4,168.9 410,140.4 409.7,156.6 409.4,153.1 409,156.1 408.7,148.1 408.4,157.6 408,165.7 407.7,150.7 407.4,180.3 407,159.6 406.7,183.4 406.4,151.9 406,188.3 405.7,173.7 405.4,145 405,146.9 404.7,154.7 404.4,181.7 404,153.9 403.7,179.5 403.3,165.9 403,172.5 402.7,181.3 402.3,146.6 402,149.6 401.7,166.6 401.3,118.7 401,137.3 400.7,164.7 400.3,144.3 400,141.9 399.7,138.2 399.3,135.2 399,143.7 398.7,145.6 398.3,162.4 398,146.7 397.7,156.1 397.3,139.5 397,129 396.7,148 396.3,150 396,152.7 395.7,141.1 395.3,152 395,143.1" fill="#d4b1b0"/>
<polyline points="395,32.5 395.3,27.5 395.7,21.3 396,25.1 396.3,28.3 396.7,26.3 397,27.7 397.3,18.4 397.7,13.4 398,32.7 398.3,34.4 398.7,36.5 399,28.2 399.3,40.8 399.7,28.2 400,23.8 400.3,26.9 400.7,45.2 401,35.7 401.3,48.4 401.7,36 402,22.6 402.3,44.2 402.7,33.8 403,24.1 403.3,27.6 403.7,45.7 404,46.1 404.4,29.7 404.7,35.8 405,42.5 405.4,36.4 405.7,39.1 406,40.4 406.4,43.4 406.7,27.2 407,40.1 407.4,32.3 407.7,28 408,25.9 408.4,42.8 408.7,37.1 409,40.3 409.4,62.6 409.7,45.6 410,52.8 410.4,25.5 410.7,35.9 411,33.5 411.4,47.4 411.7,61.1 412,18.2 412.4,24.3 412.7,35.5 413,43.6 413.4,38.5 413.7,41.4 414,40.3 414.4,41.9 414.7,32.5 415,47.4 415.4,18.6 415.7,39.7 416,23.7 416.4,43.2 416.7,33.6 417,25 417.4,42.1 417.7,29.1 418,27.6 418.4,18.5 418.7,42.7 419,39.8 419.4,49.9 419.7,31.1 420,42.7 420.4,54.2 420.7,30.3 421.1,36.6 421.4,50.2 421.7,34.3 422.1,28.1 422.4,35.8 422.7,37 423.1,22.8 423.4,51.6 423.7,28.7 424.1,36.2 424.4,24.6 424.7,38.7 425.1,53.8 425.4,57.7 425.7,49.2 426.1,36.1 426.4,51.3 426.7,48 427.1,28.7 427.4,36.2 427.7,46.4 428.1,42.4 428.4,37 428.7,28.9 429.1,19.2 429.4,46.3 429.7,21.3 430.1,34.5 430.4,28 430.7,25.1 431.1,36.4 431.4,35.5 431.7,23.1 432.1,19 432.4,20.5 432.7,20.6 433.1,29.6 433.4,52.7 433.7,29.8 434.1,46.2 434.4,23.8 434.7,61.9 435.1,33.2 435.4,40 435.7,49.7 436.1,60.3 436.4,43.5 436.7,36.6 437.1,24.9 437.4,45.5 437.8,34.1 438.1,47.7 438.4,37 438.8,60.9 439.1,21.5 439.4,37.1 439.8,45.6 440.1,37.1 440.4,24.5 440.8,27.7 441.1,27.6 441.4,49 441.8,67.6 442.1,54.1 442.4,46.2 442.8,54.3 443.1,48.4 443.4,56.4 443.8,32 444.1,35.2 444.4,59.5 444.8,51.3 445.1,41.2 445.4,25.8 445.8,22.3 446.1,33.2 446.4,25.8 446.8,46.4 447.1,37 447.4,55.9 447.8,72.6 448.1,69.6 448.4,35.2 448.8,57.7 449.1,61.1 449.4,39.4 449.8,39.9 450.1,44 450.4,28.5 450.8,67.5 451.1,34.6 451.4,36.5 451.8,51.9 452.1,53.1 452.4,51.6 452.8,53.9 453.1,51 453.4,67 453.8,29.3 454.1,46.3 454.5,42.6 454.8,52.7 455.1,79.9 455.5,38 455.8,47.8 456.1,66.5 456.5,54 456.8,60.2 457.1,73.5 457.5,90.4 457.8,34.3 458.1,49.5 458.5,91 458.8,83.3 459.1,50.9 459.5,57.4 459.8,34.9 460.1,38.4 460.5,31.7 460.8,47.8 461.1,49.5 461.5,40 461.8,48.5 462.1,60.2 462.5,47.8 462.8,57.6 463.1,62.1 463.5,53.7 463.8,60.7 464.1,54.4 464.5,52 464.8,52 465.1,53.4 465.5,72.9 465.8,41.4 466.1,73.2 466.5,69.4 466.8,60.7 467.1,48.5 467.5,49 467.8,56.2 468.1,47 468.5,73.4 468.8,48.4 469.1,31.8 469.5,36.1 469.8,31.6 470.1,67.2 470.5,70.6 470.8,62.4 471.1,48.1 471.5,39.8 471.8,81.8 472.2,67 472.5,61.3 472.8,66.6 473.2,86.9 473.5,78.3 473.8,59.9 474.2,64.2 474.5,71.6 474.8,51.5 475.2,45 475.5,61.9 475.8,68.6 476.2,56.9 476.5,67.7 476.8,115.2 477.2,52.5 477.5,62.1 477.8,58.4 478.2,73.3 478.5,85.7 478.8,54.9 479.2,56.4 479.5,37.8 479.8,64.3 480.2,64 480.5,64.9 480.8,88.7 481.2,54.3 481.5,66.4 481.8,55.6 482.2,59.2 482.5,35.8 482.8,59.3 483.2,42.5 483.5,89.1 483.8,78.2 484.2,57 484.5,68.5 484.8,69.4 485.2,53.6 485.5,71.2 485.8,68.5 486.2,67 486.5,48.3 486.8,59.5 487.2,52.7 487.5,60.9 487.8,85.5 488.2,76.8 488.5,83.4 488.9,59.4 489.2,68.4 489.5,84.4 489.9,87.7 490.2,98.7 490.5,65.6 490.9,88.1 491.2,82.5 491.5,48.5 491.9,68.1 492.2,61.5 492.5,72.7 492.9,51 493.2,68.3 493.5,73.7 493.9,78 494.2,84 494.5,60.7 494.9,79.4 495.2,51.6 495.5,72.7 495.9,69.4 496.2,114.3 496.5,120.2 496.9,72.5 497.2,51.1 497.5,58.7 497.9,47.1 498.2,61.3 498.5,94.3 498.9,78.9 499.2,66.1 499.5,80.4 499.9,95.6 500.2,75.5 500.5,37 500.9,59 501.2,76.1 501.5,82 501.9,83.1 502.2,73.2 502.5,87.5 502.9,99.9 503.2,85.2 503.5,60.5 503.9,76.6 504.2,79.9 504.5,72.8 504.9,114.1 505.2,67.9 505.6,60.7 505.9,92.3 506.2,86.2 506.6,66.2 506.9,104.9 507.2,93.6 507.6,79.4 507.9,38.3 508.2,58.4 508.6,61.9 508.9,59.8 509.2,94.9 509.6,116.2 509.9,81.7 510.2,57 510.6,100.7 510.9,71.9 511.2,57.8 511.6,76.7 511.9,77.3 512.2,82.3 512.6,88.6 512.9,81.6 513.2,57.2 513.6,97.2 513.9,96.3 514.2,64.6 514.6,74.9 514.9,86.4 515.2,117.7 515.6,69.1 515.9,131.9 516.2,77 516.6,86.1 516.9,94.1 517.2,96 517.6,99.8 517.9,83.2 518.2,74 518.6,71.1 518.9,95.6 519.2,86.1 519.6,149.9 519.9,91.2 520.2,109.5 520.6,112.1 520.9,87.9 521.2,57.1 521.6,61.7 521.9,48.3 522.3,96.6 522.6,69.1 522.9,99.5 523.3,88.5 523.6,107.1 523.9,96.8 524.3,106.3 524.6,82.4 524.9,82.5 525.3,91.8 525.6,77.3 525.9,102.2 526.3,102.3 526.6,65.4 526.9,78.4 527.3,62.6 527.6,89.8 527.9,90.7 528.3,80.3 528.6,89 528.9,52.5 529.3,90.5 529.6,82.8 529.9,88.1 530.3,79.8 530.6,44.8 530.9,57.3 531.3,74.9 531.6,107.6 531.9,89.1 532.3,84.7 532.6,66.8 532.9,93.7 533.3,110.5 533.6,101.6 533.9,74.2 534.3,49.7 534.6,86 534.9,129.8 535.3,93.5 535.6,99.2 535.9,96.9 536.3,63.5 536.6,95.9 536.9,69.2 537.3,76.8 537.6,79.7 537.9,110.8 538.3,87.4 538.6,89.5 539,71.8 539.3,55.5 539.6,78.6 540,77 540.3,68.6 540.6,53.4 541,79.2 541.3,48.9 541.6,60.4 542,52.5 542.3,74.4 542.6,83 543,116.9 543.3,51.4 543.6,75 544,100.9 544.3,78.9 544.6,75.5 545,111 545.3,89.8 545.6,59.9 546,54.1 546.3,102.5 546.6,87.9 547,60.3 547.3,65.4 547.6,86.9 548,64 548.3,72.8 548.6,46.8 549,103.3 549.3,52.1 549.6,73.1 550,86.6 550.3,74.9 550.6,45.7 551,81.2 551.3,94.2 551.6,108.1 552,58.1 552.3,129.1 552.6,88.6 553,112 553.3,87.1 553.6,98.5 554,87.6 554.3,76 554.6,92.2 555,82.9 555.3,67.4 555.6,140.2 556,109.8 556.3,112.6 556.7,75.4 557,110.7 557.3,162 557.7,126.3 558,93.4 558.3,72.4 558.7,83.7 559,54.9 559.3,52 559.7,86.4 560,65.7 560.3,86 560.7,104.8 561,113.6 561.3,117.7 561.7,91.1 562,103.3 562.3,77.5 562.7,62.8 563,99.5 563.3,82.1 563.7,88.3 564,52.5 564.3,81.6 564.7,108.5 565,69 565.3,82.6 565.7,75.1 566,61 566.3,50.9 566.7,107.1 567,108.5 567.3,93.1 567.7,73.7 568,90.5 568.3,85.9 568.7,96.9 569,80.7 569.3,88.2 569.7,87 570,72.5 570.3,75.4 570.7,60.9 571,81.2 571.3,58 571.7,86.5 572,81.6 572.3,78.8 572.7,94.5 573,49.9 573.4,62.3 573.7,76.8 574,87.1 574.4,108.1 574.7,96.4 575,73.2 575.4,109.9 575.7,55.6 576,127.9 576.4,69.7 576.7,43.8 577,127.5 577.4,103.1 577.7,75.1 578,77.3 578.4,75.5 578.7,90 579,57.4 579.4,58.4 579.7,79.3 580,77 580.4,90.8 580.7,79.2 581,108.1 581.4,73.9 581.7,60.2 582,53.2 582.4,70.7 582.7,89.4 583,67 583.4,80.7 583.7,72.2 584,55.6 584.4,67.1 584.7,61.8 585,78.8 585.4,86.4 585.7,79.8 586,62.7 586.4,62.8 586.7,85.4 587,92.3 587.4,84.1 587.7,114.6 588,91.2 588.4,83.2 588.7,62 589,55.9 589.4,54.9 589.7,66 590.1,53.4 590.4,57.3 590.7,85.1 591.1,59.9 591.4,61.6 591.7,43.7 592.1,83.6 592.4,70.8 592.7,104.5 593.1,77.7 593.4,88.5 593.7,64.4 594.1,74.8 594.4,104.1 594.7,55.6 595.1,80.7 595.4,89.6 595.7,61.6 596.1,79.1 596.4,85.4 596.7,67.9 597.1,66.7 597.4,68.5 597.7,53.4 598.1,59.2 598.4,59.7 598.7,62.3 599.1,49.2 599.4,50.6 599.7,97 600.1,106.8 600.4,75.5 600.7,53 601.1,54.2 601.4,71.3 601.7,69.7 602.1,33.2 602.4,66.6 602.7,102.6 603.1,34 603.4,96.1 603.7,68.2 604.1,65.7 604.4,41 604.7,41.2 605.1,55.5 605.4,74.3 605.7,57.5 606.1,49.8 606.4,63.5 606.8,51.5 607.1,82.3 607.4,46.4 607.8,67.9 608.1,48.5 608.4,60.6 608.8,68.7 609.1,29.6 609.4,52.1 609.8,35.8 610.1,41.4 610.4,63.5 610.8,53.7 611.1,53.6 611.4,72.9 611.8,66 612.1,87.2 612.4,60.7 612.8,37.9 613.1,47 613.4,61 613.8,59.2 614.1,50.1 614.4,46.2 614.8,48.9 615.1,46.2 615.4,81.7 615.8,60.7 616.1,33.4 616.4,77.2 616.8,59.1 617.1,75.3 617.4,44.3 617.8,29 618.1,46.6 618.4,27.4 618.8,32.8 619.1,63.1 619.4,43.8 619.8,64.6 620.1,62.1 620.4,54.1 620.8,55.4 621.1,77.4 621.4,78.2 621.8,43.8 622.1,74.6 622.4,49.6 622.8,43.4 623.1,63.3 623.4,40.1 623.8,37.9 624.1,33.9 624.5,38.6 624.8,33.2 625.1,24.2 625.5,31.1 625.8,37.1 626.1,67.5 626.5,26.7 626.8,41.2 627.1,24.6 627.5,33.1 627.8,43.9 628.1,40.8 628.5,51.3 628.8,41.5 629.1,29.8 629.5,37.5 629.8,41 630.1,44.4 630.5,23.5 630.8,28.7 631.1,26.9 631.5,26.5 631.8,24.8 632.1,25.7 632.5,36.2 632.8,31.7 633.1,38.3 633.5,44 633.8,26 634.1,47.1 634.5,61.2 634.8,42 635.1,31.5 635.5,32.2 635.8,26.8 636.1,55.1 636.5,45.7 636.8,41.1 637.1,32.2 637.5,48 637.8,35.9 638.1,40.9 638.5,28.5 638.8,43.6 639.1,32 639.5,74.2 639.8,40.1 640.1,30.7 640.5,32.9 640.8,34.4 641.2,46.2 641.5,38.3 641.8,55.7 642.2,39.6 642.5,52.6 642.8,39.7 643.2,55.1 643.5,23 643.8,51.1 644.2,34 644.5,38.1 644.8,20.9 645.2,40.1 645.5,35.4 645.8,38.2 646.2,33.3 646.5,28.9 646.8,33.9 647.2,34.8 647.5,24.5 647.8,32.8 648.2,42.7 648.5,30.1 648.8,27 649.2,21.9 649.5,30.3 649.8,40.9 650.2,21.6 650.5,35.1 650.8,42.6 651.2,26 651.5,35.7 651.8,22.9 652.2,20.6 652.5,25 652.8,28 653.2,32.8 653.5,52.3 653.8,32.7 654.2,24.4 654.5,52.3 654.8,26 655.2,30.7 655.5,25.5 655.8,25.7 656.2,29.7 656.5,26.9 656.8,29.3 657.2,54.3 657.5,38.7 657.9,42.1 658.2,23.1 658.5,26.6 658.9,37.9 659.2,24.7 659.5,42.2 659.9,31.2 660.2,25.4 660.5,37.7 660.9,45.9 661.2,37.5 661.5,43.1 661.9,34.5 662.2,48.3 662.5,44.6 662.9,40.5 663.2,49 663.5,32.3 663.9,27.9 664.2,35.4 664.5,24.5 664.9,33.5 665.2,26.9 665.5,33.7 665.9,36.4 666.2,40.6 666.5,27.5 666.9,27.2 667.2,55.6 667.5,21.3 667.9,26 668.2,21.6 668.5,32.7 668.9,29.1 669.2,35.5 669.5,26.2 669.9,37.1 670.2,29.7 670.5,60.4 670.9,28 671.2,27.8 671.5,56.7 671.9,36 672.2,24.7 672.5,38.7 672.9,21.6 673.2,45.5 673.5,54.4 673.9,33.4 674.2,22.6 674.6,45.6 674.9,48.8 675.2,62 675.6,53.1 675.9,37.7 676.2,38.5 676.6,29.4 676.9,40 677.2,48.1 677.6,50.7 677.9,63.1 678.2,45.1 678.6,40.7 678.9,49.7 679.2,56.1 679.6,45.7 679.9,34.9 680.2,39.7 680.6,51.4 680.9,35.9 681.2,30.9 681.6,48.1 681.9,42.7 682.2,27 682.6,43.1 682.9,27.2" fill="none" stroke="#7e160f" stroke-width="1.05"/>
<polyline points="395,143.1 395.3,152 395.7,141.1 396,152.7 396.3,150 396.7,148 397,129 397.3,139.5 397.7,156.1 398,146.7 398.3,162.4 398.7,145.6 399,143.7 399.3,135.2 399.7,138.2 400,141.9 400.3,144.3 400.7,164.7 401,137.3 401.3,118.7 401.7,166.6 402,149.6 402.3,146.6 402.7,181.3 403,172.5 403.3,165.9 403.7,179.5 404,153.9 404.4,181.7 404.7,154.7 405,146.9 405.4,145 405.7,173.7 406,188.3 406.4,151.9 406.7,183.4 407,159.6 407.4,180.3 407.7,150.7 408,165.7 408.4,157.6 408.7,148.1 409,156.1 409.4,153.1 409.7,156.6 410,140.4 410.4,168.9 410.7,149.6 411,126.8 411.4,121.7 411.7,109.4 412,138.1 412.4,175.1 412.7,143.6 413,146.8 413.4,125.3 413.7,161.3 414,177 414.4,159.3 414.7,168.5 415,175.2 415.4,172.8 415.7,148.7 416,127.8 416.4,129.3 416.7,126.1 417,167.3 417.4,151.9 417.7,147.8 418,162.7 418.4,176.6 418.7,147.7 419,167.1 419.4,153.1 419.7,145.9 420,125.5 420.4,156.9 420.7,139.1 421.1,139.7 421.4,146.8 421.7,154.6 422.1,171.4 422.4,146.2 422.7,149.7 423.1,157.6 423.4,150.6 423.7,168.1 424.1,149 424.4,188 424.7,150.6 425.1,133.4 425.4,165.2 425.7,166 426.1,153.1 426.4,164.3 426.7,141.7 427.1,147.9 427.4,147 427.7,156.6 428.1,128.8 428.4,172.6 428.7,164.7 429.1,137 429.4,165.9 429.7,160.3 430.1,173.8 430.4,140.2 430.7,181 431.1,156 431.4,134.5 431.7,170.3 432.1,146.2 432.4,139.1 432.7,146 433.1,118.2 433.4,165.7 433.7,148.3 434.1,150.3 434.4,169 434.7,152.9 435.1,141.4 435.4,136.1 435.7,158.7 436.1,181.5 436.4,178.8 436.7,140.4 437.1,176.1 437.4,158.8 437.8,154.5 438.1,182.8 438.4,145.2 438.8,155 439.1,131.2 439.4,154.5 439.8,169.4 440.1,173 440.4,149.2 440.8,170.7 441.1,172.1 441.4,160.3 441.8,192.9 442.1,164.8 442.4,147.9 442.8,160 443.1,134.8 443.4,175.8 443.8,176.1 444.1,159.6 444.4,174.1 444.8,169.8 445.1,186.6 445.4,154.9 445.8,137.2 446.1,129.3 446.4,148.4 446.8,142 447.1,150 447.4,164 447.8,149.5 448.1,146.4 448.4,177.4 448.8,165.2 449.1,166 449.4,178.9 449.8,151.9 450.1,151.4 450.4,192.2 450.8,162.3 451.1,156.4 451.4,157.9 451.8,151.5 452.1,147.1 452.4,156.1 452.8,159.9 453.1,162 453.4,165.8 453.8,137.1 454.1,133.7 454.5,169.3 454.8,169.9 455.1,178.2 455.5,173.8 455.8,143.8 456.1,194.1 456.5,154.3 456.8,178 457.1,184.3 457.5,197.6 457.8,167 458.1,176.5 458.5,169.5 458.8,175.7 459.1,131.1 459.5,156.7 459.8,172.6 460.1,170.8 460.5,156.1 460.8,177.9 461.1,185.6 461.5,165.5 461.8,164.4 462.1,181.8 462.5,174.3 462.8,182.5 463.1,188.6 463.5,172.7 463.8,167.3 464.1,158.1 464.5,181.5 464.8,181.5 465.1,171.8 465.5,189.1 465.8,184.5 466.1,166.4 466.5,158.7 466.8,180.8 467.1,175 467.5,167.5 467.8,175 468.1,165.6 468.5,201.8 468.8,161.6 469.1,169.3 469.5,178.1 469.8,162.6 470.1,144.3 470.5,157.5 470.8,157.3 471.1,181.2 471.5,151.6 471.8,163.9 472.2,181.2 472.5,179.8 472.8,176.1 473.2,189.6 473.5,154.5 473.8,162.4 474.2,159.6 474.5,189.1 474.8,174.7 475.2,180.4 475.5,202.7 475.8,173.9 476.2,184.8 476.5,189.6 476.8,169 477.2,189.6 477.5,183 477.8,187 478.2,179.4 478.5,183.2 478.8,165.9 479.2,159.8 479.5,145.2 479.8,176.4 480.2,179.1 480.5,178.8 480.8,161.7 481.2,172.4 481.5,177.8 481.8,176.2 482.2,195.3 482.5,165.8 482.8,174.9 483.2,198.3 483.5,171 483.8,172.3 484.2,176.6 484.5,163.5 484.8,205.5 485.2,194.9 485.5,183.4 485.8,182.9 486.2,186.1 486.5,197.4 486.8,186.4 487.2,192.8 487.5,198.2 487.8,160.6 488.2,177.2 488.5,148.3 488.9,149.7 489.2,156.6 489.5,163.9 489.9,178.5 490.2,208.4 490.5,177.1 490.9,174.9 491.2,173.8 491.5,169.8 491.9,181.2 492.2,180.3 492.5,165.6 492.9,166.3 493.2,168.3 493.5,186.6 493.9,170.8 494.2,204 494.5,185.3 494.9,208.4 495.2,165.8 495.5,164.7 495.9,186.1 496.2,192.1 496.5,180.1 496.9,209 497.2,186.9 497.5,186.1 497.9,174.1 498.2,200.6 498.5,193.7 498.9,206.4 499.2,167.8 499.5,179.5 499.9,189.9 500.2,187.3 500.5,193.7 500.9,166 501.2,175.4 501.5,191.3 501.9,176.6 502.2,184.9 502.5,162.7 502.9,160.4 503.2,156.3 503.5,188.2 503.9,177.4 504.2,156.5 504.5,168.9 504.9,167.8 505.2,129 505.6,204.7 505.9,197.2 506.2,159.5 506.6,161.3 506.9,173.1 507.2,186.9 507.6,171.3 507.9,174.7 508.2,179.7 508.6,166.3 508.9,181 509.2,178.3 509.6,163.7 509.9,174 510.2,155.8 510.6,190.5 510.9,154.7 511.2,170.7 511.6,185 511.9,187.4 512.2,201.8 512.6,200 512.9,174.4 513.2,178.2 513.6,180.4 513.9,174.4 514.2,167.3 514.6,192.2 514.9,166.7 515.2,165.4 515.6,175.2 515.9,167.6 516.2,172.9 516.6,176.4 516.9,181.7 517.2,178 517.6,182.4 517.9,196.6 518.2,165.2 518.6,197 518.9,181.1 519.2,191 519.6,182.7 519.9,168.7 520.2,145.7 520.6,203.5 520.9,175.7 521.2,166.9 521.6,204.4 521.9,187 522.3,209.1 522.6,206.6 522.9,200 523.3,206.9 523.6,197 523.9,162.8 524.3,193.5 524.6,185.9 524.9,178.1 525.3,198.3 525.6,176.6 525.9,193.3 526.3,207.7 526.6,186.8 526.9,193 527.3,210.5 527.6,201.4 527.9,181.9 528.3,169.4 528.6,199.5 528.9,207.1 529.3,176.9 529.6,192.9 529.9,174.8 530.3,179.4 530.6,200.6 530.9,185.8 531.3,179 531.6,211.9 531.9,208 532.3,184.3 532.6,203.6 532.9,211.5 533.3,184 533.6,201.9 533.9,181.2 534.3,209.6 534.6,210.5 534.9,204 535.3,205.3 535.6,199.5 535.9,164.7 536.3,179.9 536.6,192.3 536.9,199.2 537.3,198.7 537.6,212.1 537.9,173.6 538.3,183.8 538.6,186.6 539,203.1 539.3,190.9 539.6,180.7 540,191.1 540.3,179 540.6,186.9 541,153.8 541.3,160.4 541.6,173 542,198.7 542.3,185.3 542.6,192.2 543,205.8 543.3,172.7 543.6,204 544,194.7 544.3,182.3 544.6,208.8 545,169.8 545.3,172.2 545.6,181.6 546,189.4 546.3,187.4 546.6,153.6 547,173.8 547.3,185.3 547.6,212.5 548,213 548.3,211.8 548.6,170.3 549,191.1 549.3,182.3 549.6,197 550,191.7 550.3,177.2 550.6,191.1 551,185.2 551.3,175.2 551.6,212.1 552,196.2 552.3,184.7 552.6,197.1 553,187.4 553.3,195.2 553.6,201.7 554,211.8 554.3,195.5 554.6,165.8 555,209.9 555.3,211.8 555.6,207.8 556,204.7 556.3,171.1 556.7,188.9 557,179.9 557.3,201.1 557.7,175.4 558,184.4 558.3,205.9 558.7,202.2 559,187.6 559.3,212.5 559.7,182.6 560,194.6 560.3,181.2 560.7,192 561,181.7 561.3,179.3 561.7,191.8 562,177 562.3,206.9 562.7,192.4 563,200.9 563.3,183.5 563.7,174.7 564,196 564.3,208 564.7,158.4 565,192.7 565.3,196.4 565.7,173.9 566,174.8 566.3,198.2 566.7,182.5 567,181.7 567.3,211.5 567.7,182.8 568,172.1 568.3,149 568.7,158.2 569,162.7 569.3,200.1 569.7,203.7 570,177.7 570.3,208.7 570.7,190.6 571,175 571.3,194.8 571.7,185.3 572,172 572.3,165.3 572.7,166.2 573,170.3 573.4,164.9 573.7,164.7 574,183.8 574.4,162.3 574.7,180.3 575,175 575.4,182.8 575.7,173 576,175.9 576.4,164 576.7,144.9 577,168.8 577.4,178.2 577.7,192.4 578,183.4 578.4,162.4 578.7,168.9 579,140.7 579.4,158.6 579.7,190.5 580,199.9 580.4,206.8 580.7,184.9 581,198 581.4,182.4 581.7,157.1 582,157.5 582.4,186.6 582.7,192.8 583,195.7 583.4,171.1 583.7,174.1 584,169.3 584.4,159.7 584.7,144.3 585,174 585.4,167 585.7,168.5 586,200.1 586.4,184 586.7,172.8 587,180.3 587.4,154.9 587.7,180.9 588,177.3 588.4,170.4 588.7,175.8 589,191.1 589.4,170.7 589.7,189.6 590.1,197 590.4,187.4 590.7,193.9 591.1,165.5 591.4,174.7 591.7,162.4 592.1,177.5 592.4,167.8 592.7,170.5 593.1,184.3 593.4,170.8 593.7,140.6 594.1,158.1 594.4,160.6 594.7,153 595.1,156.1 595.4,160.3 595.7,176.3 596.1,154.1 596.4,153.2 596.7,157.8 597.1,181.4 597.4,145.1 597.7,167.4 598.1,169.6 598.4,159.5 598.7,163.1 599.1,155.1 599.4,154.8 599.7,143.4 600.1,164.5 600.4,189.9 600.7,154.6 601.1,179 601.4,133.6 601.7,163 602.1,155.8 602.4,184.5 602.7,160.3 603.1,171.7 603.4,152.9 603.7,158.5 604.1,168 604.4,177.3 604.7,129.4 605.1,163.1 605.4,175.1 605.7,194.8 606.1,171.7 606.4,146.6 606.8,165.5 607.1,176 607.4,170.7 607.8,173.7 608.1,162.8 608.4,167.2 608.8,182.1 609.1,153.1 609.4,195 609.8,171.7 610.1,189.2 610.4,156.9 610.8,163.3 611.1,163.9 611.4,143.6 611.8,140 612.1,161.8 612.4,170.7 612.8,120.9 613.1,123 613.4,156.8 613.8,160.8 614.1,169.8 614.4,138.8 614.8,160.1 615.1,160.2 615.4,158.5 615.8,164.8 616.1,169 616.4,169 616.8,165.8 617.1,153.1 617.4,148 617.8,132.5 618.1,143.5 618.4,143.4 618.8,147 619.1,166.2 619.4,156.4 619.8,161.5 620.1,153.5 620.4,174.9 620.8,152.8 621.1,167 621.4,166.7 621.8,161.6 622.1,152.8 622.4,132.8 622.8,131.1 623.1,173.5 623.4,158.3 623.8,157.1 624.1,153.7 624.5,149.8 624.8,187.7 625.1,143.3 625.5,148.5 625.8,152.8 626.1,131.4 626.5,132.3 626.8,133.4 627.1,150.9 627.5,140.8 627.8,165.9 628.1,139.7 628.5,155.7 628.8,167.7 629.1,166 629.5,141.3 629.8,106.6 630.1,152.1 630.5,162.3 630.8,139.6 631.1,164 631.5,148.5 631.8,151.1 632.1,133.5 632.5,153.9 632.8,143 633.1,140.7 633.5,164.8 633.8,153.7 634.1,128.5 634.5,150.6 634.8,157.4 635.1,144.8 635.5,137.7 635.8,149.9 636.1,146.2 636.5,147.3 636.8,158.2 637.1,144.9 637.5,178.2 637.8,140.1 638.1,144 638.5,171.4 638.8,183.8 639.1,154.1 639.5,149.4 639.8,133.9 640.1,162.9 640.5,156.4 640.8,148.2 641.2,153.7 641.5,169.9 641.8,159.6 642.2,187.1 642.5,179.5 642.8,155.6 643.2,154.2 643.5,166 643.8,165.9 644.2,170.1 644.5,173.4 644.8,155.5 645.2,157.5 645.5,168.2 645.8,155.5 646.2,135.5 646.5,170.6 646.8,174.9 647.2,146.8 647.5,152.3 647.8,146.3 648.2,126.6 648.5,139.9 648.8,130.5 649.2,151.9 649.5,150.8 649.8,182.9 650.2,158.2 650.5,162.8 650.8,157.6 651.2,153.5 651.5,139.2 651.8,169.7 652.2,156.6 652.5,150.4 652.8,162.1 653.2,147.7 653.5,146.1 653.8,153 654.2,176.3 654.5,153.4 654.8,130.9 655.2,144.5 655.5,180.1 655.8,142.2 656.2,164.3 656.5,154.3 656.8,164.8 657.2,161 657.5,124.4 657.9,137 658.2,179.8 658.5,165.6 658.9,157.8 659.2,136.9 659.5,144.2 659.9,147.4 660.2,148.7 660.5,176.5 660.9,149.9 661.2,152.3 661.5,134 661.9,146.3 662.2,127.3 662.5,149.7 662.9,125.3 663.2,164.7 663.5,160.8 663.9,148.2 664.2,141.2 664.5,146.9 664.9,145.5 665.2,174.4 665.5,137.2 665.9,140.4 666.2,154.2 666.5,145.2 666.9,141.2 667.2,124.3 667.5,122.4 667.9,133.4 668.2,143.9 668.5,162.3 668.9,179.3 669.2,178 669.5,158.6 669.9,172.7 670.2,157.1 670.5,140.8 670.9,175.9 671.2,138.2 671.5,141.5 671.9,146.1 672.2,163.3 672.5,139.1 672.9,165.9 673.2,142 673.5,143.3 673.9,144.6 674.2,144.7 674.6,129.2 674.9,133.4 675.2,129 675.6,150.4 675.9,148.4 676.2,155.6 676.6,155.3 676.9,150.6 677.2,164.9 677.6,140.3 677.9,131.4 678.2,142.1 678.6,149 678.9,158.3 679.2,167 679.6,125.4 679.9,160.6 680.2,155.4 680.6,143.3 680.9,152.7 681.2,149.2 681.6,137 681.9,168.7 682.2,150 682.6,167.9 682.9,173.1" fill="none" stroke="#7e160f" stroke-width="1.31"/>
<polyline points="395,92.4 395.3,78.5 395.7,107.6 396,105.6 396.3,70 396.7,90.9 397,87.4 397.3,79.8 397.7,64.8 398,62.6 398.3,93.2 398.7,85.6 399,101.4 399.3,77.3 399.7,83.6 400,85 400.3,66.8 400.7,63.5 401,94.1 401.3,97 401.7,79 402,90.4 402.3,101.5 402.7,121.9 403,87.2 403.3,100 403.7,124.6 404,98.6 404.4,114.5 404.7,54.6 405,107.3 405.4,95.4 405.7,64 406,103.9 406.4,113.9 406.7,121.4 407,118.5 407.4,98.9 407.7,86.4 408,86.5 408.4,96.2 408.7,100.1 409,87.3 409.4,94.6 409.7,109.6 410,101.9 410.4,133.9 410.7,135.5 411,90.4 411.4,91.1 411.7,82.3 412,81.2 412.4,105.4 412.7,92.4 413,82.1 413.4,90.7 413.7,110.9 414,93.6 414.4,92.3 414.7,112.3 415,103.4 415.4,102.8 415.7,111 416,82.6 416.4,97.7 416.7,90.3 417,110.4 417.4,111.3 417.7,79.7 418,112.8 418.4,77.4 418.7,107.1 419,96.6 419.4,77.9 419.7,73 420,81.6 420.4,86.8 420.7,82.3 421.1,95.8 421.4,75.1 421.7,87.5 422.1,90.8 422.4,66.7 422.7,96.5 423.1,75.1 423.4,53.1 423.7,79 424.1,87 424.4,108.9 424.7,91.8 425.1,119.9 425.4,123.6 425.7,118.5 426.1,122.8 426.4,108.8 426.7,102.8 427.1,111 427.4,115.8 427.7,106.8 428.1,98.7 428.4,77.8 428.7,112 429.1,108.7 429.4,82 429.7,101.1 430.1,111.3 430.4,109.7 430.7,113 431.1,117.7 431.4,76.9 431.7,90.7 432.1,109.4 432.4,114.6 432.7,124.8 433.1,78.4 433.4,94.1 433.7,108.8 434.1,119.5 434.4,126.9 434.7,86.6 435.1,88.8 435.4,81.8 435.7,107 436.1,78.4 436.4,113.2 436.7,120 437.1,111.4 437.4,71.4 437.8,86.1 438.1,109.5 438.4,77.4 438.8,100.6 439.1,96.8 439.4,113 439.8,109.5 440.1,103.9 440.4,92.2 440.8,97 441.1,97.4 441.4,113 441.8,101 442.1,120.9 442.4,82.2 442.8,122.8 443.1,108.9 443.4,125.8 443.8,112 444.1,123.1 444.4,132.1 444.8,104.1 445.1,106.9 445.4,103.8 445.8,109.6 446.1,85.8 446.4,101.2 446.8,103.7 447.1,103 447.4,106.4 447.8,88.9 448.1,131.1 448.4,128.4 448.8,145.3 449.1,102.4 449.4,92.2 449.8,112.5 450.1,84 450.4,110.6 450.8,96.7 451.1,100.6 451.4,110.7 451.8,109.1 452.1,138.8 452.4,131 452.8,96.3 453.1,127 453.4,94.9 453.8,111.2 454.1,92.2 454.5,97.5 454.8,127 455.1,101.7 455.5,96.3 455.8,98.6 456.1,100.5 456.5,129.3 456.8,92.2 457.1,92.1 457.5,117.3 457.8,85.5 458.1,105.1 458.5,125.9 458.8,112.5 459.1,103.1 459.5,98 459.8,96.4 460.1,98.5 460.5,111.7 460.8,134.2 461.1,129.4 461.5,104.2 461.8,99.6 462.1,127.2 462.5,90 462.8,104.9 463.1,107.5 463.5,96.5 463.8,96.6 464.1,117.4 464.5,91 464.8,96.4 465.1,103.6 465.5,115.9 465.8,92.8 466.1,130 466.5,114.8 466.8,109.4 467.1,109.2 467.5,110.3 467.8,103.9 468.1,130.2 468.5,118.9 468.8,114.5 469.1,129.5 469.5,108.1 469.8,128.6 470.1,125.8 470.5,112.1 470.8,124.7 471.1,95.3 471.5,125.1 471.8,104.5 472.2,122.7 472.5,138.2 472.8,132.5 473.2,111.4 473.5,117.8 473.8,114.3 474.2,99.1 474.5,101.1 474.8,117.6 475.2,124.1 475.5,92 475.8,117.7 476.2,128.1 476.5,123.1 476.8,109.8 477.2,136.3 477.5,104.1 477.8,124.4 478.2,143.2 478.5,92.3 478.8,118.5 479.2,127.4 479.5,121.3 479.8,105.9 480.2,112.1 480.5,93.2 480.8,114.9 481.2,126.3 481.5,105.6 481.8,101.5 482.2,104 482.5,113.8 482.8,115 483.2,114.1 483.5,119.2 483.8,94.8 484.2,69.3 484.5,116.5 484.8,134.6 485.2,94.5 485.5,102.5 485.8,117.9 486.2,129.3 486.5,126.3 486.8,137.8 487.2,117.6 487.5,122.3 487.8,122.5 488.2,108.9 488.5,134.9 488.9,130.9 489.2,134.6 489.5,114.1 489.9,135 490.2,106.2 490.5,126.7 490.9,82.6 491.2,99.2 491.5,128.7 491.9,119.5 492.2,124.1 492.5,96.6 492.9,142.4 493.2,141.1 493.5,127.2 493.9,129.9 494.2,128.1 494.5,145.5 494.9,129.1 495.2,99.3 495.5,114 495.9,140 496.2,137.2 496.5,120.5 496.9,132.6 497.2,124 497.5,132.5 497.9,99.2 498.2,104.3 498.5,133 498.9,123.4 499.2,129.7 499.5,153.2 499.9,122.4 500.2,127 500.5,122.6 500.9,119.1 501.2,123 501.5,102.5 501.9,89.8 502.2,140.8 502.5,129.3 502.9,146.1 503.2,131.6 503.5,131.1 503.9,142.4 504.2,141.7 504.5,112.3 504.9,148.4 505.2,120.6 505.6,131.8 505.9,170.9 506.2,141.1 506.6,156.2 506.9,135.8 507.2,141.1 507.6,129.3 507.9,136.6 508.2,117.4 508.6,109.5 508.9,128.5 509.2,101.7 509.6,109.1 509.9,133.6 510.2,117.5 510.6,111.7 510.9,104.4 511.2,123.5 511.6,119.2 511.9,125.6 512.2,122.3 512.6,154.9 512.9,124.7 513.2,93.7 513.6,122.2 513.9,124.3 514.2,130.5 514.6,100.1 514.9,144.2 515.2,130.1 515.6,131.1 515.9,104.5 516.2,132.2 516.6,128.9 516.9,150 517.2,126.4 517.6,114.2 517.9,130.7 518.2,116.1 518.6,139.9 518.9,116 519.2,126.7 519.6,128.4 519.9,129.7 520.2,123.4 520.6,118.4 520.9,132.9 521.2,124.2 521.6,136.4 521.9,131.4 522.3,97.9 522.6,129.8 522.9,153.9 523.3,139.6 523.6,141.9 523.9,139.8 524.3,127.3 524.6,109.5 524.9,144.1 525.3,152 525.6,142.4 525.9,139.9 526.3,140.2 526.6,130.1 526.9,135.8 527.3,132.1 527.6,138.9 527.9,119.5 528.3,121.9 528.6,138.8 528.9,126.6 529.3,94.8 529.6,136.2 529.9,101.6 530.3,154.5 530.6,143.1 530.9,142.1 531.3,119.7 531.6,112 531.9,122.6 532.3,127.7 532.6,117.7 532.9,129.6 533.3,139.7 533.6,141.1 533.9,115.4 534.3,97.5 534.6,123.7 534.9,118.9 535.3,133 535.6,156.5 535.9,159.9 536.3,137.8 536.6,147.2 536.9,158.7 537.3,133.8 537.6,133.8 537.9,141.1 538.3,131.9 538.6,120.5 539,118.4 539.3,128.2 539.6,120.2 540,141.1 540.3,127.5 540.6,151.1 541,151.7 541.3,117.2 541.6,143.7 542,126.6 542.3,148.1 542.6,138.5 543,128.3 543.3,138.9 543.6,121.4 544,131.9 544.3,134.5 544.6,130.9 545,133.6 545.3,116.9 545.6,134.5 546,112.6 546.3,136.7 546.6,138.8 547,143.6 547.3,127.6 547.6,174.9 548,134.3 548.3,132.5 548.6,119 549,149.4 549.3,123.9 549.6,146.3 550,118.6 550.3,139.4 550.6,128.3 551,151.1 551.3,131.6 551.6,123.8 552,141.7 552.3,115.7 552.6,117.1 553,142.3 553.3,108.5 553.6,143 554,133.9 554.3,128.4 554.6,141.6 555,149.5 555.3,130.1 555.6,133.5 556,148.2 556.3,153.5 556.7,139.8 557,127.6 557.3,127.8 557.7,134.1 558,149.5 558.3,150.2 558.7,147 559,163.4 559.3,138.4 559.7,134.7 560,131.8 560.3,166.1 560.7,112.8 561,139.4 561.3,145.6 561.7,144.9 562,175.5 562.3,156.2 562.7,145.4 563,125.8 563.3,138 563.7,133.1 564,134.5 564.3,136.9 564.7,125.8 565,139.3 565.3,157.7 565.7,150.4 566,136.2 566.3,103.9 566.7,146.2 567,145.4 567.3,125.4 567.7,120.4 568,136.1 568.3,114.1 568.7,132.6 569,107.1 569.3,105.6 569.7,118.5 570,100.4 570.3,119.6 570.7,136.1 571,105.1 571.3,136.2 571.7,120.4 572,130.4 572.3,129 572.7,120.2 573,118 573.4,99.3 573.7,109.6 574,110.2 574.4,145.9 574.7,141.4 575,109.5 575.4,136.4 575.7,130.2 576,120.9 576.4,130.5 576.7,138.4 577,119.7 577.4,124 577.7,129.1 578,118.6 578.4,130.3 578.7,127.2 579,114.1 579.4,109.6 579.7,125.3 580,134.2 580.4,130.1 580.7,110.7 581,129.8 581.4,125.5 581.7,128.8 582,138.3 582.4,108.6 582.7,114.4 583,111 583.4,103 583.7,150.4 584,135.6 584.4,96.5 584.7,121.8 585,110.1 585.4,135.5 585.7,121.4 586,113.6 586.4,116.7 586.7,129.9 587,117.8 587.4,118 587.7,115.7 588,127.1 588.4,103.4 588.7,119.4 589,117.5 589.4,116.8 589.7,131.2 590.1,105.7 590.4,117.4 590.7,106.8 591.1,127.3 591.4,120.6 591.7,120.7 592.1,128.6 592.4,96 592.7,120.6 593.1,105.8 593.4,110.2 593.7,115.2 594.1,128.5 594.4,129.9 594.7,145 595.1,123.8 595.4,106.6 595.7,104 596.1,119.3 596.4,133.3 596.7,117.5 597.1,105.5 597.4,109.8 597.7,110.4 598.1,106.2 598.4,104 598.7,68.8 599.1,92.6 599.4,119 599.7,113.1 600.1,74.1 600.4,103 600.7,81.2 601.1,130.9 601.4,114.8 601.7,86.1 602.1,110.2 602.4,93.1 602.7,111.1 603.1,105.2 603.4,88.5 603.7,112.9 604.1,85.4 604.4,121.5 604.7,106.9 605.1,92 605.4,76.4 605.7,124.8 606.1,129.1 606.4,90.3 606.8,125.2 607.1,114.2 607.4,104 607.8,102.7 608.1,100.2 608.4,127.1 608.8,109.1 609.1,89.1 609.4,134.4 609.8,129.5 610.1,93 610.4,102.5 610.8,94.4 611.1,104.9 611.4,114.1 611.8,113.4 612.1,98.3 612.4,91.9 612.8,121 613.1,105.6 613.4,140.4 613.8,100.5 614.1,117.2 614.4,107.3 614.8,96 615.1,123.7 615.4,109.4 615.8,93.2 616.1,98 616.4,119.1 616.8,88.8 617.1,125.8 617.4,115.4 617.8,102.1 618.1,121.1 618.4,132.4 618.8,111.2 619.1,108.1 619.4,125.8 619.8,126.1 620.1,88.2 620.4,92.4 620.8,95.6 621.1,93.8 621.4,76.9 621.8,106.9 622.1,99.9 622.4,99.2 622.8,120.9 623.1,92.7 623.4,95.4 623.8,100.9 624.1,90.6 624.5,97.1 624.8,106.9 625.1,97.7 625.5,117.4 625.8,89.6 626.1,97.9 626.5,79.1 626.8,91.9 627.1,84.7 627.5,124.3 627.8,111.4 628.1,105.5 628.5,125.6 628.8,121.4 629.1,109.6 629.5,85.7 629.8,72.5 630.1,88.6 630.5,93.4 630.8,83.3 631.1,86.8 631.5,67.2 631.8,110 632.1,76.6 632.5,83.5 632.8,99.7 633.1,71.5 633.5,104.1 633.8,106.2 634.1,90.9 634.5,75.7 634.8,87.5 635.1,63.6 635.5,107.8 635.8,95.3 636.1,83.2 636.5,80.1 636.8,103.5 637.1,118.7 637.5,78.7 637.8,83.2 638.1,66.4 638.5,100 638.8,98.5 639.1,129.2 639.5,101.1 639.8,88.3 640.1,85.5 640.5,105.5 640.8,76.2 641.2,100.6 641.5,99.1 641.8,87.3 642.2,79.7 642.5,108.7 642.8,127.5 643.2,93.1 643.5,103.1 643.8,121.7 644.2,88.6 644.5,87.7 644.8,75.9 645.2,92.3 645.5,95.3 645.8,86.2 646.2,80 646.5,70.7 646.8,71.8 647.2,73 647.5,98.8 647.8,86.5 648.2,77.8 648.5,101.4 648.8,105.2 649.2,85.7 649.5,89 649.8,103 650.2,103.9 650.5,81.6 650.8,93.5 651.2,91.1 651.5,111.9 651.8,82.1 652.2,103.5 652.5,101.3 652.8,79 653.2,107.1 653.5,109.5 653.8,80.1 654.2,122.9 654.5,83.4 654.8,78.7 655.2,94.5 655.5,108.6 655.8,108.4 656.2,95.5 656.5,112 656.8,100.2 657.2,115.3 657.5,136.6 657.9,100.5 658.2,53.2 658.5,78.7 658.9,72.7 659.2,90.9 659.5,90.9 659.9,71.1 660.2,69.5 660.5,82.2 660.9,84.7 661.2,47.6 661.5,95.8 661.9,91.1 662.2,87.7 662.5,91.5 662.9,75.2 663.2,91.2 663.5,107.3 663.9,111.4 664.2,103.5 664.5,96.2 664.9,80.5 665.2,114.9 665.5,106.1 665.9,88.5 666.2,62.9 666.5,78.4 666.9,60.7 667.2,106.8 667.5,101.5 667.9,90.5 668.2,89 668.5,133.7 668.9,119.7 669.2,77 669.5,89.4 669.9,73.2 670.2,64.6 670.5,91.7 670.9,129.4 671.2,124.3 671.5,96 671.9,87 672.2,92.9 672.5,105.2 672.9,69.3 673.2,59 673.5,119 673.9,100.9 674.2,115.9 674.6,98.3 674.9,118.2 675.2,85.5 675.6,100.9 675.9,117.2 676.2,108.6 676.6,86.9 676.9,106.7 677.2,87.9 677.6,70.4 677.9,99.8 678.2,118.1 678.6,111.4 678.9,80.5 679.2,108.2 679.6,104.1 679.9,85.3 680.2,52.2 680.6,102.1 680.9,108.1 681.2,102 681.6,71.1 681.9,67.6 682.2,108.4 682.6,108.2 682.9,105.6" fill="none" stroke="#3a3f52" stroke-width="1.05"/></g>
<rect x="395.00" y="1.90" width="287.90" height="222.90" fill="none" stroke="#000" stroke-width="1.9"/>
<line x1="419.45" y1="224.80" x2="419.45" y2="220.60" stroke="#000" stroke-width="1.7"/>
<line x1="419.45" y1="1.90" x2="419.45" y2="6.10" stroke="#000" stroke-width="1.7"/>
<line x1="441.54" y1="224.80" x2="441.54" y2="220.60" stroke="#000" stroke-width="1.7"/>
<line x1="441.54" y1="1.90" x2="441.54" y2="6.10" stroke="#000" stroke-width="1.7"/>
<line x1="465.99" y1="224.80" x2="465.99" y2="220.60" stroke="#000" stroke-width="1.7"/>
<line x1="465.99" y1="1.90" x2="465.99" y2="6.10" stroke="#000" stroke-width="1.7"/>
<line x1="489.65" y1="224.80" x2="489.65" y2="220.60" stroke="#000" stroke-width="1.7"/>
<line x1="489.65" y1="1.90" x2="489.65" y2="6.10" stroke="#000" stroke-width="1.7"/>
<line x1="514.10" y1="224.80" x2="514.10" y2="220.60" stroke="#000" stroke-width="1.7"/>
<line x1="514.10" y1="1.90" x2="514.10" y2="6.10" stroke="#000" stroke-width="1.7"/>
<line x1="537.77" y1="224.80" x2="537.77" y2="220.60" stroke="#000" stroke-width="1.7"/>
<line x1="537.77" y1="1.90" x2="537.77" y2="6.10" stroke="#000" stroke-width="1.7"/>
<line x1="562.22" y1="224.80" x2="562.22" y2="220.60" stroke="#000" stroke-width="1.7"/>
<line x1="562.22" y1="1.90" x2="562.22" y2="6.10" stroke="#000" stroke-width="1.7"/>
<line x1="586.67" y1="224.80" x2="586.67" y2="220.60" stroke="#000" stroke-width="1.7"/>
<line x1="586.67" y1="1.90" x2="586.67" y2="6.10" stroke="#000" stroke-width="1.7"/>
<line x1="610.33" y1="224.80" x2="610.33" y2="220.60" stroke="#000" stroke-width="1.7"/>
<line x1="610.33" y1="1.90" x2="610.33" y2="6.10" stroke="#000" stroke-width="1.7"/>
<line x1="634.79" y1="224.80" x2="634.79" y2="220.60" stroke="#000" stroke-width="1.7"/>
<line x1="634.79" y1="1.90" x2="634.79" y2="6.10" stroke="#000" stroke-width="1.7"/>
<line x1="658.45" y1="224.80" x2="658.45" y2="220.60" stroke="#000" stroke-width="1.7"/>
<line x1="658.45" y1="1.90" x2="658.45" y2="6.10" stroke="#000" stroke-width="1.7"/>
<line x1="395.00" y1="29.80" x2="398.50" y2="29.80" stroke="#000" stroke-width="1.6"/>
<line x1="682.90" y1="29.80" x2="679.40" y2="29.80" stroke="#000" stroke-width="1.6"/>
<line x1="395.00" y1="64.60" x2="398.50" y2="64.60" stroke="#000" stroke-width="1.6"/>
<line x1="682.90" y1="64.60" x2="679.40" y2="64.60" stroke="#000" stroke-width="1.6"/>
<line x1="395.00" y1="99.80" x2="398.50" y2="99.80" stroke="#000" stroke-width="1.6"/>
<line x1="682.90" y1="99.80" x2="679.40" y2="99.80" stroke="#000" stroke-width="1.6"/>
<line x1="395.00" y1="134.80" x2="398.50" y2="134.80" stroke="#000" stroke-width="1.6"/>
<line x1="682.90" y1="134.80" x2="679.40" y2="134.80" stroke="#000" stroke-width="1.6"/>
<line x1="395.00" y1="168.90" x2="398.50" y2="168.90" stroke="#000" stroke-width="1.6"/>
<line x1="682.90" y1="168.90" x2="679.40" y2="168.90" stroke="#000" stroke-width="1.6"/>
<line x1="395.00" y1="203.75" x2="398.50" y2="203.75" stroke="#000" stroke-width="1.6"/>
<line x1="682.90" y1="203.75" x2="679.40" y2="203.75" stroke="#000" stroke-width="1.6"/>
<text x="388.40" y="35.60" text-anchor="end" class="tl">1</text>
<text x="388.40" y="70.40" text-anchor="end" class="tl">0.8</text>
<text x="388.40" y="105.60" text-anchor="end" class="tl">0.6</text>
<text x="388.40" y="140.60" text-anchor="end" class="tl">0.4</text>
<text x="388.40" y="174.70" text-anchor="end" class="tl">0.2</text>
<text x="388.40" y="209.55" text-anchor="end" class="tl">0</text>
<text transform="translate(361.00,115.60) rotate(-90)" text-anchor="middle" class="yl" textLength="117.5" lengthAdjust="spacingAndGlyphs">Power output [pu]</text>
<text transform="translate(398.23,239.00) rotate(45)" class="ml">Jan.</text>
<text transform="translate(422.24,239.00) rotate(45)" class="ml">Feb.</text>
<text transform="translate(447.11,239.00) rotate(45)" class="ml">Mar.</text>
<text transform="translate(470.97,239.00) rotate(45)" class="ml">Apr.</text>
<text transform="translate(495.03,239.00) rotate(45)" class="ml">May</text>
<text transform="translate(518.39,239.00) rotate(45)" class="ml">Jun.</text>
<text transform="translate(540.54,239.00) rotate(45)" class="ml">Jul.</text>
<text transform="translate(567.74,239.00) rotate(45)" class="ml">Aug.</text>
<text transform="translate(591.70,239.00) rotate(45)" class="ml">Sep.</text>
<text transform="translate(618.26,239.00) rotate(45)" class="ml">Oct.</text>
<text transform="translate(641.97,239.00) rotate(45)" class="ml">Nov.</text>
<text transform="translate(663.27,239.00) rotate(45)" class="ml">Dec.</text>
<text x="76.8" y="277.1" class="cap"><tspan class="capp">(</tspan><tspan class="capb">a</tspan><tspan class="capp">)</tspan> Weekly (168&#8201;h) time resolution.</text>
<text x="437.2" y="277.1" class="cap"><tspan class="capp">(</tspan><tspan class="capb">b</tspan><tspan class="capp">)</tspan> Hourly (1&#8201;h) time resolution.</text>
</svg></body></html>
